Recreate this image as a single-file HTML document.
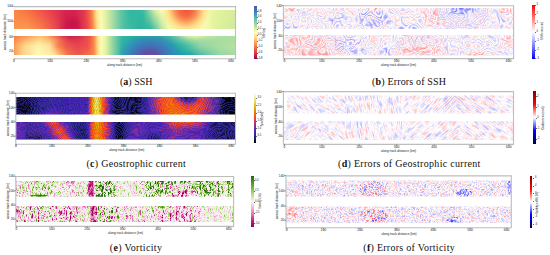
<!DOCTYPE html><html><head><meta charset="utf-8"><style>
*{margin:0;padding:0;box-sizing:border-box}
html,body{width:550px;height:255px;overflow:hidden;background:#fff}
body{position:relative;font-family:"Liberation Sans",sans-serif}
.a{position:absolute}
.sp{position:absolute}
.t{position:absolute;font-size:3.4px;line-height:4px;color:#1a1a1a;white-space:nowrap}
.tc{transform:translateX(-50%)}
.tv{transform:translate(-50%,-50%) rotate(-90deg)}
.cap{position:absolute;font-family:"Liberation Serif",serif;font-size:10px;line-height:12px;color:#111;white-space:nowrap}
.band{position:absolute;overflow:hidden}
.band>div{position:absolute;left:0;top:0;width:100%;height:100%}
svg{position:absolute;left:0;top:0}
</style></head><body>
<div class="band" style="left:14px;top:10px;width:221px;height:19px">
<div style="background:linear-gradient(to right,#fb9550 0.0%,#fc9a50 6.3%,#f88048 11.8%,#f0604a 16.3%,#e4404e 19.9%,#cc1a4b 23.5%,#cf1f4d 29.0%,#ee4a4c 33.5%,#f88a48 35.7%,#fee08b 37.6%,#fefbb5 39.4%,#e3f3a0 41.6%,#a8dca4 44.8%,#4cbfa4 49.8%,#2bb3a0 57.0%,#30b7a0 61.5%,#70cba4 64.3%,#c0e6a0 67.0%,#f0f8aa 69.7%,#f8fab0 86.9%,#e3f3a0 90.5%,#cfeb9a 100.0%)"></div>
<div style="background:linear-gradient(to right,#f98548 0.0%,#f8783f 4.5%,#f46245 9.0%,#ee4c4c 13.6%,#e43a50 18.1%,#d8264f 22.6%,#d4224f 27.1%,#e03a50 31.7%,#f26a42 34.4%,#fa9a50 35.7%,#fee08b 37.1%,#fdfbb2 38.9%,#e3f3a0 41.2%,#b0dfa4 44.3%,#66c6a5 48.0%,#2fb7a0 52.5%,#38b9a1 58.4%,#8ed2a4 61.1%,#d8efa0 63.8%,#f8fab0 66.5%,#f8fab0 86.9%,#e6f4a0 90.5%,#d6ed98 100.0%);-webkit-mask-image:linear-gradient(to bottom,#000 0%,rgba(0,0,0,0.6) 40%,transparent 100%)"></div>
<div style="background:radial-gradient(ellipse 9px 10px at 59px 14px,rgba(198,15,72,0.9),rgba(198,15,72,0) 100%)"></div>
<div style="background:radial-gradient(ellipse 24px 25px at 172px -1px,#f0503e 0%,#f46d43 30%,#f9955a 48%,#fdbe72 62%,#fee08b 76%,rgba(252,248,176,0) 100%)"></div>
</div>
<div class="band" style="left:14px;top:36px;width:221px;height:19px">
<div style="background:linear-gradient(to right,#fb9a52 0.0%,#fed08a 3.6%,#fffab7 10.9%,#feeaa0 18.1%,#fba560 21.7%,#f4744a 24.4%,#ee5a4c 29.0%,#f4704a 33.5%,#f88a48 36.2%,#fee08b 38.0%,#fefbb5 39.4%,#e3f3a0 41.6%,#8fd3a4 44.8%,#2cb0a5 48.9%,#2a98b3 52.5%,#4470b0 56.1%,#5e55a4 59.3%,#6a4ea5 62.4%,#5460a8 66.1%,#3288bd 69.7%,#2296b2 74.2%,#20a8a8 79.6%,#60c4a4 86.4%,#98d6a2 93.2%,#a8dca2 100.0%)"></div>
<div style="background:linear-gradient(to right,#fa9a52 0.0%,#fed98a 5.0%,#fff3ad 10.9%,#fde09a 16.3%,#f8864c 19.9%,#ee5a4c 23.5%,#e84550 28.1%,#f0504c 33.5%,#f88a48 36.2%,#fee08b 38.0%,#fefbb5 39.4%,#e3f3a0 41.6%,#8fd3a4 44.8%,#2bb3a3 48.9%,#2a9db0 53.4%,#3288bd 57.9%,#3a7cba 63.8%,#2d90b8 68.3%,#22a8aa 72.9%,#3cbba4 77.4%,#8fd3a4 84.2%,#aadda2 93.2%,#b5e1a0 100.0%);-webkit-mask-image:linear-gradient(to bottom,transparent 0%,#000 45%,#000 55%,transparent 100%)"></div>
<div style="background:linear-gradient(to right,#f67a45 0.0%,#fa9550 5.0%,#fdc06e 11.8%,#fca45a 14.9%,#f4744a 18.1%,#e03c4f 21.7%,#cd1d4c 25.3%,#d42950 29.9%,#ee5048 34.4%,#f88a48 36.2%,#fee08b 38.0%,#fefbb5 39.4%,#e3f3a0 41.6%,#8fd3a4 44.8%,#35b8a3 48.9%,#22b0a0 54.8%,#25a6a8 61.5%,#2ea7aa 66.1%,#45b9a4 70.6%,#98d5a4 75.1%,#d9f0a0 78.7%,#e6f5a0 81.9%,#cdeba0 86.4%,#b0e0a0 93.2%,#aedfa0 100.0%);-webkit-mask-image:linear-gradient(to bottom,#000 0%,transparent 50%)"></div>
<div style="background:radial-gradient(ellipse 32px 21px at 136px 20px,#6a4ea5 0%,#5e4fa2 20%,#4470b5 48%,rgba(50,136,189,0.6) 75%,rgba(50,136,189,0) 100%)"></div>
</div>
<svg width="550" height="255" viewBox="0 0 550 255"><defs><linearGradient id="h3" gradientUnits="userSpaceOnUse" x1="8" y1="0" x2="243" y2="0"><stop offset="0.0000" stop-color="rgb(25,56,0)"/><stop offset="0.0340" stop-color="rgb(25,56,0)"/><stop offset="0.0511" stop-color="rgb(15,56,0)"/><stop offset="0.0851" stop-color="rgb(12,56,0)"/><stop offset="0.1106" stop-color="rgb(30,56,0)"/><stop offset="0.1447" stop-color="rgb(51,56,0)"/><stop offset="0.1787" stop-color="rgb(76,56,0)"/><stop offset="0.2043" stop-color="rgb(66,56,0)"/><stop offset="0.2426" stop-color="rgb(51,56,0)"/><stop offset="0.2851" stop-color="rgb(56,56,0)"/><stop offset="0.3404" stop-color="rgb(56,56,0)"/><stop offset="0.3489" stop-color="rgb(122,56,0)"/><stop offset="0.3617" stop-color="rgb(173,56,0)"/><stop offset="0.3745" stop-color="rgb(214,56,0)"/><stop offset="0.3872" stop-color="rgb(188,56,0)"/><stop offset="0.4000" stop-color="rgb(147,56,0)"/><stop offset="0.4128" stop-color="rgb(112,56,0)"/><stop offset="0.4298" stop-color="rgb(76,56,0)"/><stop offset="0.4468" stop-color="rgb(30,56,0)"/><stop offset="0.4638" stop-color="rgb(15,56,0)"/><stop offset="0.4894" stop-color="rgb(30,56,0)"/><stop offset="0.5191" stop-color="rgb(20,56,0)"/><stop offset="0.5532" stop-color="rgb(20,56,0)"/><stop offset="0.5872" stop-color="rgb(45,56,0)"/><stop offset="0.6128" stop-color="rgb(66,56,0)"/><stop offset="0.6383" stop-color="rgb(91,56,0)"/><stop offset="0.6638" stop-color="rgb(127,56,0)"/><stop offset="0.6894" stop-color="rgb(145,56,0)"/><stop offset="0.7149" stop-color="rgb(153,56,0)"/><stop offset="0.7404" stop-color="rgb(153,56,0)"/><stop offset="0.7660" stop-color="rgb(147,56,0)"/><stop offset="0.7915" stop-color="rgb(140,56,0)"/><stop offset="0.8170" stop-color="rgb(117,56,0)"/><stop offset="0.8426" stop-color="rgb(86,56,0)"/><stop offset="0.8638" stop-color="rgb(66,56,0)"/><stop offset="0.8851" stop-color="rgb(51,56,0)"/><stop offset="0.9064" stop-color="rgb(25,56,0)"/><stop offset="0.9234" stop-color="rgb(12,56,0)"/><stop offset="1.0000" stop-color="rgb(12,56,0)"/></linearGradient><linearGradient id="h4" gradientUnits="userSpaceOnUse" x1="8" y1="0" x2="243" y2="0"><stop offset="0.0000" stop-color="rgb(25,56,0)"/><stop offset="0.0340" stop-color="rgb(25,56,0)"/><stop offset="0.0511" stop-color="rgb(15,56,0)"/><stop offset="0.0766" stop-color="rgb(12,56,0)"/><stop offset="0.1021" stop-color="rgb(25,56,0)"/><stop offset="0.1447" stop-color="rgb(38,56,0)"/><stop offset="0.2000" stop-color="rgb(43,56,0)"/><stop offset="0.2426" stop-color="rgb(45,56,0)"/><stop offset="0.2851" stop-color="rgb(51,56,0)"/><stop offset="0.3404" stop-color="rgb(56,56,0)"/><stop offset="0.3489" stop-color="rgb(127,56,0)"/><stop offset="0.3617" stop-color="rgb(183,56,0)"/><stop offset="0.3745" stop-color="rgb(224,56,0)"/><stop offset="0.3872" stop-color="rgb(198,56,0)"/><stop offset="0.4000" stop-color="rgb(153,56,0)"/><stop offset="0.4128" stop-color="rgb(114,56,0)"/><stop offset="0.4298" stop-color="rgb(76,56,0)"/><stop offset="0.4468" stop-color="rgb(30,56,0)"/><stop offset="0.4638" stop-color="rgb(15,56,0)"/><stop offset="0.4894" stop-color="rgb(33,56,0)"/><stop offset="0.5191" stop-color="rgb(20,56,0)"/><stop offset="0.5532" stop-color="rgb(20,56,0)"/><stop offset="0.5872" stop-color="rgb(51,56,0)"/><stop offset="0.6128" stop-color="rgb(76,56,0)"/><stop offset="0.6383" stop-color="rgb(112,56,0)"/><stop offset="0.6638" stop-color="rgb(137,56,0)"/><stop offset="0.6894" stop-color="rgb(147,56,0)"/><stop offset="0.7149" stop-color="rgb(142,56,0)"/><stop offset="0.7362" stop-color="rgb(127,56,0)"/><stop offset="0.7574" stop-color="rgb(107,56,0)"/><stop offset="0.7787" stop-color="rgb(112,56,0)"/><stop offset="0.8000" stop-color="rgb(132,56,0)"/><stop offset="0.8213" stop-color="rgb(127,56,0)"/><stop offset="0.8426" stop-color="rgb(102,56,0)"/><stop offset="0.8638" stop-color="rgb(76,56,0)"/><stop offset="0.8851" stop-color="rgb(61,56,0)"/><stop offset="0.9064" stop-color="rgb(30,56,0)"/><stop offset="0.9234" stop-color="rgb(12,56,0)"/><stop offset="1.0000" stop-color="rgb(12,56,0)"/></linearGradient><linearGradient id="h5" gradientUnits="userSpaceOnUse" x1="8" y1="0" x2="243" y2="0"><stop offset="0.0000" stop-color="rgb(25,56,0)"/><stop offset="0.0340" stop-color="rgb(25,56,0)"/><stop offset="0.0596" stop-color="rgb(17,56,0)"/><stop offset="0.0851" stop-color="rgb(25,56,0)"/><stop offset="0.1191" stop-color="rgb(33,56,0)"/><stop offset="0.1574" stop-color="rgb(38,56,0)"/><stop offset="0.2000" stop-color="rgb(43,56,0)"/><stop offset="0.2426" stop-color="rgb(43,56,0)"/><stop offset="0.2851" stop-color="rgb(51,56,0)"/><stop offset="0.3404" stop-color="rgb(53,56,0)"/><stop offset="0.3489" stop-color="rgb(122,56,0)"/><stop offset="0.3617" stop-color="rgb(173,56,0)"/><stop offset="0.3745" stop-color="rgb(219,56,0)"/><stop offset="0.3872" stop-color="rgb(193,56,0)"/><stop offset="0.4000" stop-color="rgb(153,56,0)"/><stop offset="0.4128" stop-color="rgb(117,56,0)"/><stop offset="0.4298" stop-color="rgb(81,56,0)"/><stop offset="0.4468" stop-color="rgb(38,56,0)"/><stop offset="0.4638" stop-color="rgb(17,56,0)"/><stop offset="0.4894" stop-color="rgb(35,56,0)"/><stop offset="0.5191" stop-color="rgb(20,56,0)"/><stop offset="0.5532" stop-color="rgb(25,56,0)"/><stop offset="0.5872" stop-color="rgb(45,56,0)"/><stop offset="0.6128" stop-color="rgb(76,56,0)"/><stop offset="0.6383" stop-color="rgb(117,56,0)"/><stop offset="0.6638" stop-color="rgb(137,56,0)"/><stop offset="0.6894" stop-color="rgb(142,56,0)"/><stop offset="0.7106" stop-color="rgb(122,56,0)"/><stop offset="0.7277" stop-color="rgb(76,56,0)"/><stop offset="0.7447" stop-color="rgb(40,56,0)"/><stop offset="0.7830" stop-color="rgb(40,56,0)"/><stop offset="0.8043" stop-color="rgb(76,56,0)"/><stop offset="0.8213" stop-color="rgb(112,56,0)"/><stop offset="0.8426" stop-color="rgb(107,56,0)"/><stop offset="0.8638" stop-color="rgb(81,56,0)"/><stop offset="0.8851" stop-color="rgb(61,56,0)"/><stop offset="0.9064" stop-color="rgb(30,56,0)"/><stop offset="0.9234" stop-color="rgb(12,56,0)"/><stop offset="1.0000" stop-color="rgb(12,56,0)"/></linearGradient><linearGradient id="v6" x1="0" y1="0" x2="0" y2="1"><stop offset="0" stop-color="#fff" stop-opacity="0"/><stop offset="0.23880597014925373" stop-color="#fff" stop-opacity="0"/><stop offset="0.5" stop-color="#fff" stop-opacity="1"/><stop offset="0.7611940298507462" stop-color="#fff" stop-opacity="0"/><stop offset="1" stop-color="#fff" stop-opacity="0"/></linearGradient><mask id="m7" maskContentUnits="objectBoundingBox"><rect x="0" y="0" width="1" height="1" fill="url(#v6)"/></mask><linearGradient id="v8" x1="0" y1="0" x2="0" y2="1"><stop offset="0" stop-color="#fff" stop-opacity="1"/><stop offset="0.23880597014925373" stop-color="#fff" stop-opacity="1"/><stop offset="0.5" stop-color="#fff" stop-opacity="0"/><stop offset="1" stop-color="#fff" stop-opacity="0"/></linearGradient><mask id="m9" maskContentUnits="objectBoundingBox"><rect x="0" y="0" width="1" height="1" fill="url(#v8)"/></mask><filter id="f1" filterUnits="userSpaceOnUse" x="8" y="89" width="235" height="33.5" color-interpolation-filters="sRGB"><feGaussianBlur in="SourceGraphic" stdDeviation="0.8" result="src"/><feColorMatrix in="src" type="matrix" values="1 0 0 0 0  1 0 0 0 0  1 0 0 0 0  0 0 0 0 1" result="bias"/><feColorMatrix in="src" type="matrix" values="0 1 0 0 0  0 1 0 0 0  0 1 0 0 0  0 0 0 0 1" result="amp"/><feTurbulence type="fractalNoise" baseFrequency="0.025 0.035" numOctaves="2" seed="4"/><feColorMatrix type="matrix" values="1 0 0 0 0  1 0 0 0 0  1 0 0 0 0  0 0 0 0 1"/><feComponentTransfer result="t0"><feFuncR type="table" tableValues="0 1 0 1 0 1 0 1 0 1 0 1 0 1 0 1 0 1 0 1 0 1 0 1 0 1 0 1 0 1 0 1 0 1 0 1 0 1 0 1 0 1 0 1 0 1 0 1 0 1 0 1 0 1 0 1 0 1 0 1 0"/><feFuncG type="table" tableValues="0 1 0 1 0 1 0 1 0 1 0 1 0 1 0 1 0 1 0 1 0 1 0 1 0 1 0 1 0 1 0 1 0 1 0 1 0 1 0 1 0 1 0 1 0 1 0 1 0 1 0 1 0 1 0 1 0 1 0 1 0"/><feFuncB type="table" tableValues="0 1 0 1 0 1 0 1 0 1 0 1 0 1 0 1 0 1 0 1 0 1 0 1 0 1 0 1 0 1 0 1 0 1 0 1 0 1 0 1 0 1 0 1 0 1 0 1 0 1 0 1 0 1 0 1 0 1 0 1 0"/></feComponentTransfer><feTurbulence type="fractalNoise" baseFrequency="0.45" numOctaves="1" seed="2"/><feColorMatrix type="matrix" values="1 0 0 0 0  1 0 0 0 0  1 0 0 0 0  0 0 0 0 1" result="t1"/><feComponentTransfer in="t0" result="tx"><feFuncR type="linear" slope="0.7" intercept="0.15000000000000002"/><feFuncG type="linear" slope="0.7" intercept="0.15000000000000002"/><feFuncB type="linear" slope="0.7" intercept="0.15000000000000002"/></feComponentTransfer><feComposite in="tx" in2="t1" operator="arithmetic" k2="1" k3="0.4" k4="-0.2" result="tx"/><feComposite in="amp" in2="tx" operator="arithmetic" k1="1" k2="-0.5" k4="0.5" result="s1"/><feComposite in="bias" in2="s1" operator="arithmetic" k2="1" k3="1" k4="-0.5" result="s2"/><feComponentTransfer in="s2"><feFuncR type="table" tableValues="0.000 0.037 0.075 0.112 0.150 0.188 0.225 0.262 0.300 0.375 0.450 0.525 0.600 0.700 0.800 0.900 1.000 0.975 0.950 0.925 0.900 0.900 0.900 0.900 0.900 0.900 0.900 0.900 0.900 0.925 0.950 0.975 1.000"/><feFuncG type="table" tableValues="0.000 0.037 0.075 0.112 0.150 0.150 0.150 0.150 0.150 0.162 0.175 0.188 0.200 0.213 0.225 0.237 0.250 0.312 0.375 0.438 0.500 0.562 0.625 0.688 0.750 0.787 0.825 0.863 0.900 0.925 0.950 0.975 1.000"/><feFuncB type="table" tableValues="0.000 0.125 0.250 0.375 0.500 0.562 0.625 0.688 0.750 0.688 0.625 0.562 0.500 0.412 0.325 0.237 0.150 0.112 0.075 0.037 0.000 0.025 0.050 0.075 0.100 0.200 0.300 0.400 0.500 0.625 0.750 0.875 1.000"/><feFuncA type="linear" slope="0" intercept="1"/></feComponentTransfer></filter><clipPath id="c2"><rect x="16" y="97" width="219" height="17.5"/></clipPath><linearGradient id="h12" gradientUnits="userSpaceOnUse" x1="8" y1="0" x2="243" y2="0"><stop offset="0.0000" stop-color="rgb(76,56,0)"/><stop offset="0.0340" stop-color="rgb(76,56,0)"/><stop offset="0.0511" stop-color="rgb(51,56,0)"/><stop offset="0.0851" stop-color="rgb(30,56,0)"/><stop offset="0.1277" stop-color="rgb(12,56,0)"/><stop offset="0.1617" stop-color="rgb(40,56,0)"/><stop offset="0.1872" stop-color="rgb(61,56,0)"/><stop offset="0.2085" stop-color="rgb(81,56,0)"/><stop offset="0.2213" stop-color="rgb(117,56,0)"/><stop offset="0.2340" stop-color="rgb(142,56,0)"/><stop offset="0.2511" stop-color="rgb(140,56,0)"/><stop offset="0.2638" stop-color="rgb(107,56,0)"/><stop offset="0.2809" stop-color="rgb(61,56,0)"/><stop offset="0.3064" stop-color="rgb(30,56,0)"/><stop offset="0.3404" stop-color="rgb(38,56,0)"/><stop offset="0.3532" stop-color="rgb(122,56,0)"/><stop offset="0.3660" stop-color="rgb(153,56,0)"/><stop offset="0.3787" stop-color="rgb(173,56,0)"/><stop offset="0.3915" stop-color="rgb(158,56,0)"/><stop offset="0.4085" stop-color="rgb(127,56,0)"/><stop offset="0.4255" stop-color="rgb(96,56,0)"/><stop offset="0.4426" stop-color="rgb(66,56,0)"/><stop offset="0.4596" stop-color="rgb(17,56,0)"/><stop offset="0.4809" stop-color="rgb(15,56,0)"/><stop offset="0.5021" stop-color="rgb(45,56,0)"/><stop offset="0.5404" stop-color="rgb(66,56,0)"/><stop offset="0.5830" stop-color="rgb(40,56,0)"/><stop offset="0.6255" stop-color="rgb(15,56,0)"/><stop offset="0.6553" stop-color="rgb(51,56,0)"/><stop offset="0.6894" stop-color="rgb(76,56,0)"/><stop offset="0.7319" stop-color="rgb(66,56,0)"/><stop offset="0.7957" stop-color="rgb(63,56,0)"/><stop offset="0.8255" stop-color="rgb(56,56,0)"/><stop offset="0.8511" stop-color="rgb(40,56,0)"/><stop offset="0.8809" stop-color="rgb(30,56,0)"/><stop offset="0.9660" stop-color="rgb(30,56,0)"/><stop offset="1.0000" stop-color="rgb(30,56,0)"/></linearGradient><linearGradient id="h13" gradientUnits="userSpaceOnUse" x1="8" y1="0" x2="243" y2="0"><stop offset="0.0000" stop-color="rgb(76,56,0)"/><stop offset="0.0340" stop-color="rgb(76,56,0)"/><stop offset="0.0511" stop-color="rgb(61,56,0)"/><stop offset="0.0851" stop-color="rgb(51,56,0)"/><stop offset="0.1191" stop-color="rgb(51,56,0)"/><stop offset="0.1532" stop-color="rgb(61,56,0)"/><stop offset="0.1787" stop-color="rgb(76,56,0)"/><stop offset="0.1957" stop-color="rgb(117,56,0)"/><stop offset="0.2085" stop-color="rgb(142,56,0)"/><stop offset="0.2255" stop-color="rgb(140,56,0)"/><stop offset="0.2383" stop-color="rgb(107,56,0)"/><stop offset="0.2553" stop-color="rgb(66,56,0)"/><stop offset="0.2809" stop-color="rgb(40,56,0)"/><stop offset="0.3064" stop-color="rgb(30,56,0)"/><stop offset="0.3404" stop-color="rgb(38,56,0)"/><stop offset="0.3532" stop-color="rgb(122,56,0)"/><stop offset="0.3660" stop-color="rgb(153,56,0)"/><stop offset="0.3787" stop-color="rgb(168,56,0)"/><stop offset="0.3915" stop-color="rgb(158,56,0)"/><stop offset="0.4085" stop-color="rgb(132,56,0)"/><stop offset="0.4255" stop-color="rgb(102,56,0)"/><stop offset="0.4426" stop-color="rgb(71,56,0)"/><stop offset="0.4596" stop-color="rgb(15,56,0)"/><stop offset="0.4809" stop-color="rgb(15,56,0)"/><stop offset="0.5021" stop-color="rgb(40,56,0)"/><stop offset="0.5277" stop-color="rgb(66,56,0)"/><stop offset="0.5617" stop-color="rgb(81,56,0)"/><stop offset="0.6043" stop-color="rgb(56,56,0)"/><stop offset="0.6468" stop-color="rgb(71,56,0)"/><stop offset="0.6809" stop-color="rgb(66,56,0)"/><stop offset="0.7106" stop-color="rgb(91,56,0)"/><stop offset="0.7532" stop-color="rgb(81,56,0)"/><stop offset="0.7957" stop-color="rgb(71,56,0)"/><stop offset="0.8255" stop-color="rgb(63,56,0)"/><stop offset="0.8511" stop-color="rgb(45,56,0)"/><stop offset="0.8809" stop-color="rgb(30,56,0)"/><stop offset="0.9660" stop-color="rgb(30,56,0)"/><stop offset="1.0000" stop-color="rgb(30,56,0)"/></linearGradient><linearGradient id="h14" gradientUnits="userSpaceOnUse" x1="8" y1="0" x2="243" y2="0"><stop offset="0.0000" stop-color="rgb(76,56,0)"/><stop offset="0.0340" stop-color="rgb(76,56,0)"/><stop offset="0.0511" stop-color="rgb(61,56,0)"/><stop offset="0.0851" stop-color="rgb(51,56,0)"/><stop offset="0.1191" stop-color="rgb(56,56,0)"/><stop offset="0.1447" stop-color="rgb(66,56,0)"/><stop offset="0.1617" stop-color="rgb(91,56,0)"/><stop offset="0.1745" stop-color="rgb(122,56,0)"/><stop offset="0.1872" stop-color="rgb(140,56,0)"/><stop offset="0.2000" stop-color="rgb(140,56,0)"/><stop offset="0.2128" stop-color="rgb(107,56,0)"/><stop offset="0.2298" stop-color="rgb(66,56,0)"/><stop offset="0.2553" stop-color="rgb(45,56,0)"/><stop offset="0.2851" stop-color="rgb(35,56,0)"/><stop offset="0.3404" stop-color="rgb(40,56,0)"/><stop offset="0.3532" stop-color="rgb(122,56,0)"/><stop offset="0.3660" stop-color="rgb(153,56,0)"/><stop offset="0.3787" stop-color="rgb(173,56,0)"/><stop offset="0.3915" stop-color="rgb(158,56,0)"/><stop offset="0.4085" stop-color="rgb(132,56,0)"/><stop offset="0.4255" stop-color="rgb(102,56,0)"/><stop offset="0.4426" stop-color="rgb(71,56,0)"/><stop offset="0.4596" stop-color="rgb(20,56,0)"/><stop offset="0.4809" stop-color="rgb(15,56,0)"/><stop offset="0.5021" stop-color="rgb(40,56,0)"/><stop offset="0.5277" stop-color="rgb(61,56,0)"/><stop offset="0.5617" stop-color="rgb(76,56,0)"/><stop offset="0.6043" stop-color="rgb(61,56,0)"/><stop offset="0.6468" stop-color="rgb(76,56,0)"/><stop offset="0.6809" stop-color="rgb(102,56,0)"/><stop offset="0.7021" stop-color="rgb(132,56,0)"/><stop offset="0.7532" stop-color="rgb(135,56,0)"/><stop offset="0.7957" stop-color="rgb(127,56,0)"/><stop offset="0.8255" stop-color="rgb(102,56,0)"/><stop offset="0.8511" stop-color="rgb(56,56,0)"/><stop offset="0.8809" stop-color="rgb(30,56,0)"/><stop offset="0.9660" stop-color="rgb(30,56,0)"/><stop offset="1.0000" stop-color="rgb(30,56,0)"/></linearGradient><linearGradient id="v15" x1="0" y1="0" x2="0" y2="1"><stop offset="0" stop-color="#fff" stop-opacity="0"/><stop offset="0.23880597014925373" stop-color="#fff" stop-opacity="0"/><stop offset="0.5" stop-color="#fff" stop-opacity="1"/><stop offset="0.7611940298507462" stop-color="#fff" stop-opacity="0"/><stop offset="1" stop-color="#fff" stop-opacity="0"/></linearGradient><mask id="m16" maskContentUnits="objectBoundingBox"><rect x="0" y="0" width="1" height="1" fill="url(#v15)"/></mask><linearGradient id="v17" x1="0" y1="0" x2="0" y2="1"><stop offset="0" stop-color="#fff" stop-opacity="1"/><stop offset="0.23880597014925373" stop-color="#fff" stop-opacity="1"/><stop offset="0.5" stop-color="#fff" stop-opacity="0"/><stop offset="1" stop-color="#fff" stop-opacity="0"/></linearGradient><mask id="m18" maskContentUnits="objectBoundingBox"><rect x="0" y="0" width="1" height="1" fill="url(#v17)"/></mask><filter id="f10" filterUnits="userSpaceOnUse" x="8" y="114" width="235" height="33.5" color-interpolation-filters="sRGB"><feGaussianBlur in="SourceGraphic" stdDeviation="0.8" result="src"/><feColorMatrix in="src" type="matrix" values="1 0 0 0 0  1 0 0 0 0  1 0 0 0 0  0 0 0 0 1" result="bias"/><feColorMatrix in="src" type="matrix" values="0 1 0 0 0  0 1 0 0 0  0 1 0 0 0  0 0 0 0 1" result="amp"/><feTurbulence type="fractalNoise" baseFrequency="0.025 0.035" numOctaves="2" seed="9"/><feColorMatrix type="matrix" values="1 0 0 0 0  1 0 0 0 0  1 0 0 0 0  0 0 0 0 1"/><feComponentTransfer result="t0"><feFuncR type="table" tableValues="0 1 0 1 0 1 0 1 0 1 0 1 0 1 0 1 0 1 0 1 0 1 0 1 0 1 0 1 0 1 0 1 0 1 0 1 0 1 0 1 0 1 0 1 0 1 0 1 0 1 0 1 0 1 0 1 0 1 0 1 0"/><feFuncG type="table" tableValues="0 1 0 1 0 1 0 1 0 1 0 1 0 1 0 1 0 1 0 1 0 1 0 1 0 1 0 1 0 1 0 1 0 1 0 1 0 1 0 1 0 1 0 1 0 1 0 1 0 1 0 1 0 1 0 1 0 1 0 1 0"/><feFuncB type="table" tableValues="0 1 0 1 0 1 0 1 0 1 0 1 0 1 0 1 0 1 0 1 0 1 0 1 0 1 0 1 0 1 0 1 0 1 0 1 0 1 0 1 0 1 0 1 0 1 0 1 0 1 0 1 0 1 0 1 0 1 0 1 0"/></feComponentTransfer><feTurbulence type="fractalNoise" baseFrequency="0.45" numOctaves="1" seed="12"/><feColorMatrix type="matrix" values="1 0 0 0 0  1 0 0 0 0  1 0 0 0 0  0 0 0 0 1" result="t1"/><feComponentTransfer in="t0" result="tx"><feFuncR type="linear" slope="0.7" intercept="0.15000000000000002"/><feFuncG type="linear" slope="0.7" intercept="0.15000000000000002"/><feFuncB type="linear" slope="0.7" intercept="0.15000000000000002"/></feComponentTransfer><feComposite in="tx" in2="t1" operator="arithmetic" k2="1" k3="0.4" k4="-0.2" result="tx"/><feComposite in="amp" in2="tx" operator="arithmetic" k1="1" k2="-0.5" k4="0.5" result="s1"/><feComposite in="bias" in2="s1" operator="arithmetic" k2="1" k3="1" k4="-0.5" result="s2"/><feComponentTransfer in="s2"><feFuncR type="table" tableValues="0.000 0.037 0.075 0.112 0.150 0.188 0.225 0.262 0.300 0.375 0.450 0.525 0.600 0.700 0.800 0.900 1.000 0.975 0.950 0.925 0.900 0.900 0.900 0.900 0.900 0.900 0.900 0.900 0.900 0.925 0.950 0.975 1.000"/><feFuncG type="table" tableValues="0.000 0.037 0.075 0.112 0.150 0.150 0.150 0.150 0.150 0.162 0.175 0.188 0.200 0.213 0.225 0.237 0.250 0.312 0.375 0.438 0.500 0.562 0.625 0.688 0.750 0.787 0.825 0.863 0.900 0.925 0.950 0.975 1.000"/><feFuncB type="table" tableValues="0.000 0.125 0.250 0.375 0.500 0.562 0.625 0.688 0.750 0.688 0.625 0.562 0.500 0.412 0.325 0.237 0.150 0.112 0.075 0.037 0.000 0.025 0.050 0.075 0.100 0.200 0.300 0.400 0.500 0.625 0.750 0.875 1.000"/><feFuncA type="linear" slope="0" intercept="1"/></feComponentTransfer></filter><clipPath id="c11"><rect x="16" y="122" width="219" height="17.5"/></clipPath><linearGradient id="h21" gradientUnits="userSpaceOnUse" x1="276" y1="0" x2="521" y2="0"><stop offset="0.0000" stop-color="rgb(127,51,0)"/><stop offset="1.0000" stop-color="rgb(127,51,0)"/></linearGradient><linearGradient id="h22" gradientUnits="userSpaceOnUse" x1="276" y1="0" x2="521" y2="0"><stop offset="0.0000" stop-color="rgb(127,51,0)"/><stop offset="1.0000" stop-color="rgb(127,51,0)"/></linearGradient><linearGradient id="h23" gradientUnits="userSpaceOnUse" x1="276" y1="0" x2="521" y2="0"><stop offset="0.0000" stop-color="rgb(127,51,0)"/><stop offset="1.0000" stop-color="rgb(127,51,0)"/></linearGradient><linearGradient id="v24" x1="0" y1="0" x2="0" y2="1"><stop offset="0" stop-color="#fff" stop-opacity="0"/><stop offset="0.21621621621621623" stop-color="#fff" stop-opacity="0"/><stop offset="0.5" stop-color="#fff" stop-opacity="1"/><stop offset="0.7837837837837838" stop-color="#fff" stop-opacity="0"/><stop offset="1" stop-color="#fff" stop-opacity="0"/></linearGradient><mask id="m25" maskContentUnits="objectBoundingBox"><rect x="0" y="0" width="1" height="1" fill="url(#v24)"/></mask><linearGradient id="v26" x1="0" y1="0" x2="0" y2="1"><stop offset="0" stop-color="#fff" stop-opacity="1"/><stop offset="0.21621621621621623" stop-color="#fff" stop-opacity="1"/><stop offset="0.5" stop-color="#fff" stop-opacity="0"/><stop offset="1" stop-color="#fff" stop-opacity="0"/></linearGradient><mask id="m27" maskContentUnits="objectBoundingBox"><rect x="0" y="0" width="1" height="1" fill="url(#v26)"/></mask><filter id="f19" filterUnits="userSpaceOnUse" x="276" y="0" width="245" height="37" color-interpolation-filters="sRGB"><feGaussianBlur in="SourceGraphic" stdDeviation="0.8" result="src"/><feColorMatrix in="src" type="matrix" values="1 0 0 0 0  1 0 0 0 0  1 0 0 0 0  0 0 0 0 1" result="bias"/><feColorMatrix in="src" type="matrix" values="0 1 0 0 0  0 1 0 0 0  0 1 0 0 0  0 0 0 0 1" result="amp"/><feTurbulence type="fractalNoise" baseFrequency="0.06" numOctaves="2" seed="3"/><feColorMatrix type="matrix" values="1 0 0 0 0  1 0 0 0 0  1 0 0 0 0  0 0 0 0 1"/><feComponentTransfer result="t0"><feFuncR type="table" tableValues="0 1 0 1 0 1 0 1 0 1 0 1 0 1 0 1 0 1 0"/><feFuncG type="table" tableValues="0 1 0 1 0 1 0 1 0 1 0 1 0 1 0 1 0 1 0"/><feFuncB type="table" tableValues="0 1 0 1 0 1 0 1 0 1 0 1 0 1 0 1 0 1 0"/></feComponentTransfer><feTurbulence type="fractalNoise" baseFrequency="0.18" numOctaves="2" seed="5"/><feColorMatrix type="matrix" values="1 0 0 0 0  1 0 0 0 0  1 0 0 0 0  0 0 0 0 1" result="t1"/><feComponentTransfer in="t0" result="tx"><feFuncR type="linear" slope="0.8" intercept="0.09999999999999998"/><feFuncG type="linear" slope="0.8" intercept="0.09999999999999998"/><feFuncB type="linear" slope="0.8" intercept="0.09999999999999998"/></feComponentTransfer><feComposite in="tx" in2="t1" operator="arithmetic" k2="1" k3="0.8" k4="-0.4" result="tx"/><feComposite in="amp" in2="tx" operator="arithmetic" k1="1" k2="-0.5" k4="0.5" result="s1"/><feComposite in="bias" in2="s1" operator="arithmetic" k2="1" k3="1" k4="-0.5" result="s2"/><feComponentTransfer in="s2"><feFuncR type="table" tableValues="0.000 0.062 0.125 0.188 0.250 0.312 0.375 0.438 0.500 0.562 0.625 0.688 0.750 0.812 0.875 0.938 1.000 1.000 1.000 1.000 1.000 1.000 1.000 1.000 1.000 1.000 1.000 1.000 1.000 1.000 1.000 1.000 1.000"/><feFuncG type="table" tableValues="0.000 0.062 0.125 0.188 0.250 0.312 0.375 0.438 0.500 0.562 0.625 0.688 0.750 0.812 0.875 0.938 1.000 0.938 0.875 0.812 0.750 0.688 0.625 0.562 0.500 0.438 0.375 0.312 0.250 0.188 0.125 0.062 0.000"/><feFuncB type="table" tableValues="1.000 1.000 1.000 1.000 1.000 1.000 1.000 1.000 1.000 1.000 1.000 1.000 1.000 1.000 1.000 1.000 1.000 0.938 0.875 0.812 0.750 0.688 0.625 0.562 0.500 0.438 0.375 0.312 0.250 0.188 0.125 0.062 0.000"/><feFuncA type="linear" slope="0" intercept="1"/></feComponentTransfer></filter><clipPath id="c20"><rect x="284" y="8" width="229" height="21"/></clipPath><linearGradient id="h30" gradientUnits="userSpaceOnUse" x1="276" y1="0" x2="521" y2="0"><stop offset="0.0000" stop-color="rgb(127,51,0)"/><stop offset="1.0000" stop-color="rgb(127,51,0)"/></linearGradient><linearGradient id="h31" gradientUnits="userSpaceOnUse" x1="276" y1="0" x2="521" y2="0"><stop offset="0.0000" stop-color="rgb(127,51,0)"/><stop offset="1.0000" stop-color="rgb(127,51,0)"/></linearGradient><linearGradient id="h32" gradientUnits="userSpaceOnUse" x1="276" y1="0" x2="521" y2="0"><stop offset="0.0000" stop-color="rgb(127,51,0)"/><stop offset="1.0000" stop-color="rgb(127,51,0)"/></linearGradient><linearGradient id="v33" x1="0" y1="0" x2="0" y2="1"><stop offset="0" stop-color="#fff" stop-opacity="0"/><stop offset="0.21978021978021978" stop-color="#fff" stop-opacity="0"/><stop offset="0.5" stop-color="#fff" stop-opacity="1"/><stop offset="0.7802197802197802" stop-color="#fff" stop-opacity="0"/><stop offset="1" stop-color="#fff" stop-opacity="0"/></linearGradient><mask id="m34" maskContentUnits="objectBoundingBox"><rect x="0" y="0" width="1" height="1" fill="url(#v33)"/></mask><linearGradient id="v35" x1="0" y1="0" x2="0" y2="1"><stop offset="0" stop-color="#fff" stop-opacity="1"/><stop offset="0.21978021978021978" stop-color="#fff" stop-opacity="1"/><stop offset="0.5" stop-color="#fff" stop-opacity="0"/><stop offset="1" stop-color="#fff" stop-opacity="0"/></linearGradient><mask id="m36" maskContentUnits="objectBoundingBox"><rect x="0" y="0" width="1" height="1" fill="url(#v35)"/></mask><filter id="f28" filterUnits="userSpaceOnUse" x="276" y="27" width="245" height="36.4" color-interpolation-filters="sRGB"><feGaussianBlur in="SourceGraphic" stdDeviation="0.8" result="src"/><feColorMatrix in="src" type="matrix" values="1 0 0 0 0  1 0 0 0 0  1 0 0 0 0  0 0 0 0 1" result="bias"/><feColorMatrix in="src" type="matrix" values="0 1 0 0 0  0 1 0 0 0  0 1 0 0 0  0 0 0 0 1" result="amp"/><feTurbulence type="fractalNoise" baseFrequency="0.06" numOctaves="2" seed="13"/><feColorMatrix type="matrix" values="1 0 0 0 0  1 0 0 0 0  1 0 0 0 0  0 0 0 0 1"/><feComponentTransfer result="t0"><feFuncR type="table" tableValues="0 1 0 1 0 1 0 1 0 1 0 1 0 1 0 1 0 1 0"/><feFuncG type="table" tableValues="0 1 0 1 0 1 0 1 0 1 0 1 0 1 0 1 0 1 0"/><feFuncB type="table" tableValues="0 1 0 1 0 1 0 1 0 1 0 1 0 1 0 1 0 1 0"/></feComponentTransfer><feTurbulence type="fractalNoise" baseFrequency="0.18" numOctaves="2" seed="15"/><feColorMatrix type="matrix" values="1 0 0 0 0  1 0 0 0 0  1 0 0 0 0  0 0 0 0 1" result="t1"/><feComponentTransfer in="t0" result="tx"><feFuncR type="linear" slope="0.8" intercept="0.09999999999999998"/><feFuncG type="linear" slope="0.8" intercept="0.09999999999999998"/><feFuncB type="linear" slope="0.8" intercept="0.09999999999999998"/></feComponentTransfer><feComposite in="tx" in2="t1" operator="arithmetic" k2="1" k3="0.8" k4="-0.4" result="tx"/><feComposite in="amp" in2="tx" operator="arithmetic" k1="1" k2="-0.5" k4="0.5" result="s1"/><feComposite in="bias" in2="s1" operator="arithmetic" k2="1" k3="1" k4="-0.5" result="s2"/><feComponentTransfer in="s2"><feFuncR type="table" tableValues="0.000 0.062 0.125 0.188 0.250 0.312 0.375 0.438 0.500 0.562 0.625 0.688 0.750 0.812 0.875 0.938 1.000 1.000 1.000 1.000 1.000 1.000 1.000 1.000 1.000 1.000 1.000 1.000 1.000 1.000 1.000 1.000 1.000"/><feFuncG type="table" tableValues="0.000 0.062 0.125 0.188 0.250 0.312 0.375 0.438 0.500 0.562 0.625 0.688 0.750 0.812 0.875 0.938 1.000 0.938 0.875 0.812 0.750 0.688 0.625 0.562 0.500 0.438 0.375 0.312 0.250 0.188 0.125 0.062 0.000"/><feFuncB type="table" tableValues="1.000 1.000 1.000 1.000 1.000 1.000 1.000 1.000 1.000 1.000 1.000 1.000 1.000 1.000 1.000 1.000 1.000 0.938 0.875 0.812 0.750 0.688 0.625 0.562 0.500 0.438 0.375 0.312 0.250 0.188 0.125 0.062 0.000"/><feFuncA type="linear" slope="0" intercept="1"/></feComponentTransfer></filter><clipPath id="c29"><rect x="284" y="35" width="229" height="20.4"/></clipPath><linearGradient id="h39" gradientUnits="userSpaceOnUse" x1="277.63554709862206" y1="0" x2="354.36445290137794" y2="0"><stop offset="0.0000" stop-color="rgb(127,40,0)"/><stop offset="1.0000" stop-color="rgb(127,40,0)"/></linearGradient><linearGradient id="h40" gradientUnits="userSpaceOnUse" x1="277.63554709862206" y1="0" x2="354.36445290137794" y2="0"><stop offset="0.0000" stop-color="rgb(127,40,0)"/><stop offset="1.0000" stop-color="rgb(127,40,0)"/></linearGradient><linearGradient id="h41" gradientUnits="userSpaceOnUse" x1="277.63554709862206" y1="0" x2="354.36445290137794" y2="0"><stop offset="0.0000" stop-color="rgb(127,40,0)"/><stop offset="1.0000" stop-color="rgb(127,40,0)"/></linearGradient><linearGradient id="v42" x1="0" y1="0" x2="0" y2="1"><stop offset="0" stop-color="#fff" stop-opacity="0"/><stop offset="0.1042631836894077" stop-color="#fff" stop-opacity="0"/><stop offset="0.22155926533999137" stop-color="#fff" stop-opacity="1"/><stop offset="0.33885534699057507" stop-color="#fff" stop-opacity="0"/><stop offset="1" stop-color="#fff" stop-opacity="0"/></linearGradient><mask id="m43" maskContentUnits="objectBoundingBox"><rect x="0" y="0" width="1" height="1" fill="url(#v42)"/></mask><linearGradient id="v44" x1="0" y1="0" x2="0" y2="1"><stop offset="0" stop-color="#fff" stop-opacity="1"/><stop offset="0.1042631836894077" stop-color="#fff" stop-opacity="1"/><stop offset="0.22155926533999137" stop-color="#fff" stop-opacity="0"/><stop offset="1" stop-color="#fff" stop-opacity="0"/></linearGradient><mask id="m45" maskContentUnits="objectBoundingBox"><rect x="0" y="0" width="1" height="1" fill="url(#v44)"/></mask><filter id="f37" filterUnits="userSpaceOnUse" x="277.63554709862206" y="66.13554709862206" width="76.7289058027559" height="76.7289058027559" color-interpolation-filters="sRGB"><feGaussianBlur in="SourceGraphic" stdDeviation="0.6" result="src"/><feColorMatrix in="src" type="matrix" values="1 0 0 0 0  1 0 0 0 0  1 0 0 0 0  0 0 0 0 1" result="bias"/><feColorMatrix in="src" type="matrix" values="0 1 0 0 0  0 1 0 0 0  0 1 0 0 0  0 0 0 0 1" result="amp"/><feTurbulence type="fractalNoise" baseFrequency="0.1 0.5" numOctaves="2" seed="21"/><feColorMatrix type="matrix" values="1 0 0 0 0  1 0 0 0 0  1 0 0 0 0  0 0 0 0 1" result="t0"/><feTurbulence type="fractalNoise" baseFrequency="0.5" numOctaves="1" seed="71"/><feColorMatrix type="matrix" values="1 0 0 0 0  1 0 0 0 0  1 0 0 0 0  0 0 0 0 1" result="t1"/><feComponentTransfer in="t0" result="tx"><feFuncR type="linear" slope="1.5" intercept="-0.25"/><feFuncG type="linear" slope="1.5" intercept="-0.25"/><feFuncB type="linear" slope="1.5" intercept="-0.25"/></feComponentTransfer><feComposite in="tx" in2="t1" operator="arithmetic" k2="1" k3="0.4" k4="-0.2" result="tx"/><feComposite in="amp" in2="tx" operator="arithmetic" k1="1" k2="-0.5" k4="0.5" result="s1"/><feComposite in="bias" in2="s1" operator="arithmetic" k2="1" k3="1" k4="-0.5" result="s2"/><feComponentTransfer in="s2"><feFuncR type="table" tableValues="0.000 0.000 0.000 0.000 0.000 0.000 0.000 0.000 0.000 0.125 0.250 0.375 0.500 0.625 0.750 0.875 1.000 1.000 1.000 1.000 1.000 1.000 1.000 1.000 1.000 0.938 0.875 0.812 0.750 0.688 0.625 0.562 0.500"/><feFuncG type="table" tableValues="0.000 0.000 0.000 0.000 0.000 0.000 0.000 0.000 0.000 0.125 0.250 0.375 0.500 0.625 0.750 0.875 1.000 0.875 0.750 0.625 0.500 0.375 0.250 0.125 0.000 0.000 0.000 0.000 0.000 0.000 0.000 0.000 0.000"/><feFuncB type="table" tableValues="0.300 0.388 0.475 0.562 0.650 0.738 0.825 0.912 1.000 1.000 1.000 1.000 1.000 1.000 1.000 1.000 1.000 0.875 0.750 0.625 0.500 0.375 0.250 0.125 0.000 0.000 0.000 0.000 0.000 0.000 0.000 0.000 0.000"/><feFuncA type="linear" slope="0" intercept="1"/></feComponentTransfer></filter><clipPath id="c38"><rect x="287" y="95.5" width="58" height="18"/></clipPath><linearGradient id="h48" gradientUnits="userSpaceOnUse" x1="335.6576589734177" y1="0" x2="413.3423410265823" y2="0"><stop offset="0.0000" stop-color="rgb(127,40,0)"/><stop offset="1.0000" stop-color="rgb(127,40,0)"/></linearGradient><linearGradient id="h49" gradientUnits="userSpaceOnUse" x1="335.6576589734177" y1="0" x2="413.3423410265823" y2="0"><stop offset="0.0000" stop-color="rgb(127,40,0)"/><stop offset="1.0000" stop-color="rgb(127,40,0)"/></linearGradient><linearGradient id="h50" gradientUnits="userSpaceOnUse" x1="335.6576589734177" y1="0" x2="413.3423410265823" y2="0"><stop offset="0.0000" stop-color="rgb(127,40,0)"/><stop offset="1.0000" stop-color="rgb(127,40,0)"/></linearGradient><linearGradient id="v51" x1="0" y1="0" x2="0" y2="1"><stop offset="0" stop-color="#fff" stop-opacity="0"/><stop offset="0.10298040474086118" stop-color="#fff" stop-opacity="0"/><stop offset="0.21883336007433" stop-color="#fff" stop-opacity="1"/><stop offset="0.3346863154077988" stop-color="#fff" stop-opacity="0"/><stop offset="1" stop-color="#fff" stop-opacity="0"/></linearGradient><mask id="m52" maskContentUnits="objectBoundingBox"><rect x="0" y="0" width="1" height="1" fill="url(#v51)"/></mask><linearGradient id="v53" x1="0" y1="0" x2="0" y2="1"><stop offset="0" stop-color="#fff" stop-opacity="1"/><stop offset="0.10298040474086118" stop-color="#fff" stop-opacity="1"/><stop offset="0.21883336007433" stop-color="#fff" stop-opacity="0"/><stop offset="1" stop-color="#fff" stop-opacity="0"/></linearGradient><mask id="m54" maskContentUnits="objectBoundingBox"><rect x="0" y="0" width="1" height="1" fill="url(#v53)"/></mask><filter id="f46" filterUnits="userSpaceOnUse" x="335.6576589734177" y="65.65765897341772" width="77.68468205316455" height="77.68468205316455" color-interpolation-filters="sRGB"><feGaussianBlur in="SourceGraphic" stdDeviation="0.6" result="src"/><feColorMatrix in="src" type="matrix" values="1 0 0 0 0  1 0 0 0 0  1 0 0 0 0  0 0 0 0 1" result="bias"/><feColorMatrix in="src" type="matrix" values="0 1 0 0 0  0 1 0 0 0  0 1 0 0 0  0 0 0 0 1" result="amp"/><feTurbulence type="fractalNoise" baseFrequency="0.1 0.5" numOctaves="2" seed="22"/><feColorMatrix type="matrix" values="1 0 0 0 0  1 0 0 0 0  1 0 0 0 0  0 0 0 0 1" result="t0"/><feTurbulence type="fractalNoise" baseFrequency="0.5" numOctaves="1" seed="72"/><feColorMatrix type="matrix" values="1 0 0 0 0  1 0 0 0 0  1 0 0 0 0  0 0 0 0 1" result="t1"/><feComponentTransfer in="t0" result="tx"><feFuncR type="linear" slope="1.5" intercept="-0.25"/><feFuncG type="linear" slope="1.5" intercept="-0.25"/><feFuncB type="linear" slope="1.5" intercept="-0.25"/></feComponentTransfer><feComposite in="tx" in2="t1" operator="arithmetic" k2="1" k3="0.4" k4="-0.2" result="tx"/><feComposite in="amp" in2="tx" operator="arithmetic" k1="1" k2="-0.5" k4="0.5" result="s1"/><feComposite in="bias" in2="s1" operator="arithmetic" k2="1" k3="1" k4="-0.5" result="s2"/><feComponentTransfer in="s2"><feFuncR type="table" tableValues="0.000 0.000 0.000 0.000 0.000 0.000 0.000 0.000 0.000 0.125 0.250 0.375 0.500 0.625 0.750 0.875 1.000 1.000 1.000 1.000 1.000 1.000 1.000 1.000 1.000 0.938 0.875 0.812 0.750 0.688 0.625 0.562 0.500"/><feFuncG type="table" tableValues="0.000 0.000 0.000 0.000 0.000 0.000 0.000 0.000 0.000 0.125 0.250 0.375 0.500 0.625 0.750 0.875 1.000 0.875 0.750 0.625 0.500 0.375 0.250 0.125 0.000 0.000 0.000 0.000 0.000 0.000 0.000 0.000 0.000"/><feFuncB type="table" tableValues="0.300 0.388 0.475 0.562 0.650 0.738 0.825 0.912 1.000 1.000 1.000 1.000 1.000 1.000 1.000 1.000 1.000 0.875 0.750 0.625 0.500 0.375 0.250 0.125 0.000 0.000 0.000 0.000 0.000 0.000 0.000 0.000 0.000"/><feFuncA type="linear" slope="0" intercept="1"/></feComponentTransfer></filter><clipPath id="c47"><rect x="345" y="95.5" width="59" height="18"/></clipPath><linearGradient id="h57" gradientUnits="userSpaceOnUse" x1="394.4583654340201" y1="0" x2="464.54163456597996" y2="0"><stop offset="0.0000" stop-color="rgb(127,40,0)"/><stop offset="1.0000" stop-color="rgb(127,40,0)"/></linearGradient><linearGradient id="h58" gradientUnits="userSpaceOnUse" x1="394.4583654340201" y1="0" x2="464.54163456597996" y2="0"><stop offset="0.0000" stop-color="rgb(127,40,0)"/><stop offset="1.0000" stop-color="rgb(127,40,0)"/></linearGradient><linearGradient id="h59" gradientUnits="userSpaceOnUse" x1="394.4583654340201" y1="0" x2="464.54163456597996" y2="0"><stop offset="0.0000" stop-color="rgb(127,40,0)"/><stop offset="1.0000" stop-color="rgb(127,40,0)"/></linearGradient><linearGradient id="v60" x1="0" y1="0" x2="0" y2="1"><stop offset="0" stop-color="#fff" stop-opacity="0"/><stop offset="0.11414992621044538" stop-color="#fff" stop-opacity="0"/><stop offset="0.24256859319719645" stop-color="#fff" stop-opacity="1"/><stop offset="0.3709872601839475" stop-color="#fff" stop-opacity="0"/><stop offset="1" stop-color="#fff" stop-opacity="0"/></linearGradient><mask id="m61" maskContentUnits="objectBoundingBox"><rect x="0" y="0" width="1" height="1" fill="url(#v60)"/></mask><linearGradient id="v62" x1="0" y1="0" x2="0" y2="1"><stop offset="0" stop-color="#fff" stop-opacity="1"/><stop offset="0.11414992621044538" stop-color="#fff" stop-opacity="1"/><stop offset="0.24256859319719645" stop-color="#fff" stop-opacity="0"/><stop offset="1" stop-color="#fff" stop-opacity="0"/></linearGradient><mask id="m63" maskContentUnits="objectBoundingBox"><rect x="0" y="0" width="1" height="1" fill="url(#v62)"/></mask><filter id="f55" filterUnits="userSpaceOnUse" x="394.4583654340201" y="69.45836543402008" width="70.08326913195984" height="70.08326913195984" color-interpolation-filters="sRGB"><feGaussianBlur in="SourceGraphic" stdDeviation="0.6" result="src"/><feColorMatrix in="src" type="matrix" values="1 0 0 0 0  1 0 0 0 0  1 0 0 0 0  0 0 0 0 1" result="bias"/><feColorMatrix in="src" type="matrix" values="0 1 0 0 0  0 1 0 0 0  0 1 0 0 0  0 0 0 0 1" result="amp"/><feTurbulence type="fractalNoise" baseFrequency="0.1 0.5" numOctaves="2" seed="23"/><feColorMatrix type="matrix" values="1 0 0 0 0  1 0 0 0 0  1 0 0 0 0  0 0 0 0 1" result="t0"/><feTurbulence type="fractalNoise" baseFrequency="0.5" numOctaves="1" seed="73"/><feColorMatrix type="matrix" values="1 0 0 0 0  1 0 0 0 0  1 0 0 0 0  0 0 0 0 1" result="t1"/><feComponentTransfer in="t0" result="tx"><feFuncR type="linear" slope="1.5" intercept="-0.25"/><feFuncG type="linear" slope="1.5" intercept="-0.25"/><feFuncB type="linear" slope="1.5" intercept="-0.25"/></feComponentTransfer><feComposite in="tx" in2="t1" operator="arithmetic" k2="1" k3="0.4" k4="-0.2" result="tx"/><feComposite in="amp" in2="tx" operator="arithmetic" k1="1" k2="-0.5" k4="0.5" result="s1"/><feComposite in="bias" in2="s1" operator="arithmetic" k2="1" k3="1" k4="-0.5" result="s2"/><feComponentTransfer in="s2"><feFuncR type="table" tableValues="0.000 0.000 0.000 0.000 0.000 0.000 0.000 0.000 0.000 0.125 0.250 0.375 0.500 0.625 0.750 0.875 1.000 1.000 1.000 1.000 1.000 1.000 1.000 1.000 1.000 0.938 0.875 0.812 0.750 0.688 0.625 0.562 0.500"/><feFuncG type="table" tableValues="0.000 0.000 0.000 0.000 0.000 0.000 0.000 0.000 0.000 0.125 0.250 0.375 0.500 0.625 0.750 0.875 1.000 0.875 0.750 0.625 0.500 0.375 0.250 0.125 0.000 0.000 0.000 0.000 0.000 0.000 0.000 0.000 0.000"/><feFuncB type="table" tableValues="0.300 0.388 0.475 0.562 0.650 0.738 0.825 0.912 1.000 1.000 1.000 1.000 1.000 1.000 1.000 1.000 1.000 0.875 0.750 0.625 0.500 0.375 0.250 0.125 0.000 0.000 0.000 0.000 0.000 0.000 0.000 0.000 0.000"/><feFuncA type="linear" slope="0" intercept="1"/></feComponentTransfer></filter><clipPath id="c56"><rect x="404" y="95.5" width="51" height="18"/></clipPath><linearGradient id="h66" gradientUnits="userSpaceOnUse" x1="445.63554709862206" y1="0" x2="522.364452901378" y2="0"><stop offset="0.0000" stop-color="rgb(127,40,0)"/><stop offset="1.0000" stop-color="rgb(127,40,0)"/></linearGradient><linearGradient id="h67" gradientUnits="userSpaceOnUse" x1="445.63554709862206" y1="0" x2="522.364452901378" y2="0"><stop offset="0.0000" stop-color="rgb(127,40,0)"/><stop offset="1.0000" stop-color="rgb(127,40,0)"/></linearGradient><linearGradient id="h68" gradientUnits="userSpaceOnUse" x1="445.63554709862206" y1="0" x2="522.364452901378" y2="0"><stop offset="0.0000" stop-color="rgb(127,40,0)"/><stop offset="1.0000" stop-color="rgb(127,40,0)"/></linearGradient><linearGradient id="v69" x1="0" y1="0" x2="0" y2="1"><stop offset="0" stop-color="#fff" stop-opacity="0"/><stop offset="0.1042631836894077" stop-color="#fff" stop-opacity="0"/><stop offset="0.22155926533999137" stop-color="#fff" stop-opacity="1"/><stop offset="0.33885534699057507" stop-color="#fff" stop-opacity="0"/><stop offset="1" stop-color="#fff" stop-opacity="0"/></linearGradient><mask id="m70" maskContentUnits="objectBoundingBox"><rect x="0" y="0" width="1" height="1" fill="url(#v69)"/></mask><linearGradient id="v71" x1="0" y1="0" x2="0" y2="1"><stop offset="0" stop-color="#fff" stop-opacity="1"/><stop offset="0.1042631836894077" stop-color="#fff" stop-opacity="1"/><stop offset="0.22155926533999137" stop-color="#fff" stop-opacity="0"/><stop offset="1" stop-color="#fff" stop-opacity="0"/></linearGradient><mask id="m72" maskContentUnits="objectBoundingBox"><rect x="0" y="0" width="1" height="1" fill="url(#v71)"/></mask><filter id="f64" filterUnits="userSpaceOnUse" x="445.63554709862206" y="66.13554709862206" width="76.7289058027559" height="76.7289058027559" color-interpolation-filters="sRGB"><feGaussianBlur in="SourceGraphic" stdDeviation="0.6" result="src"/><feColorMatrix in="src" type="matrix" values="1 0 0 0 0  1 0 0 0 0  1 0 0 0 0  0 0 0 0 1" result="bias"/><feColorMatrix in="src" type="matrix" values="0 1 0 0 0  0 1 0 0 0  0 1 0 0 0  0 0 0 0 1" result="amp"/><feTurbulence type="fractalNoise" baseFrequency="0.1 0.5" numOctaves="2" seed="24"/><feColorMatrix type="matrix" values="1 0 0 0 0  1 0 0 0 0  1 0 0 0 0  0 0 0 0 1" result="t0"/><feTurbulence type="fractalNoise" baseFrequency="0.5" numOctaves="1" seed="74"/><feColorMatrix type="matrix" values="1 0 0 0 0  1 0 0 0 0  1 0 0 0 0  0 0 0 0 1" result="t1"/><feComponentTransfer in="t0" result="tx"><feFuncR type="linear" slope="1.5" intercept="-0.25"/><feFuncG type="linear" slope="1.5" intercept="-0.25"/><feFuncB type="linear" slope="1.5" intercept="-0.25"/></feComponentTransfer><feComposite in="tx" in2="t1" operator="arithmetic" k2="1" k3="0.4" k4="-0.2" result="tx"/><feComposite in="amp" in2="tx" operator="arithmetic" k1="1" k2="-0.5" k4="0.5" result="s1"/><feComposite in="bias" in2="s1" operator="arithmetic" k2="1" k3="1" k4="-0.5" result="s2"/><feComponentTransfer in="s2"><feFuncR type="table" tableValues="0.000 0.000 0.000 0.000 0.000 0.000 0.000 0.000 0.000 0.125 0.250 0.375 0.500 0.625 0.750 0.875 1.000 1.000 1.000 1.000 1.000 1.000 1.000 1.000 1.000 0.938 0.875 0.812 0.750 0.688 0.625 0.562 0.500"/><feFuncG type="table" tableValues="0.000 0.000 0.000 0.000 0.000 0.000 0.000 0.000 0.000 0.125 0.250 0.375 0.500 0.625 0.750 0.875 1.000 0.875 0.750 0.625 0.500 0.375 0.250 0.125 0.000 0.000 0.000 0.000 0.000 0.000 0.000 0.000 0.000"/><feFuncB type="table" tableValues="0.300 0.388 0.475 0.562 0.650 0.738 0.825 0.912 1.000 1.000 1.000 1.000 1.000 1.000 1.000 1.000 1.000 0.875 0.750 0.625 0.500 0.375 0.250 0.125 0.000 0.000 0.000 0.000 0.000 0.000 0.000 0.000 0.000"/><feFuncA type="linear" slope="0" intercept="1"/></feComponentTransfer></filter><clipPath id="c65"><rect x="455" y="95.5" width="58" height="18"/></clipPath><linearGradient id="h75" gradientUnits="userSpaceOnUse" x1="273.3982735629996" y1="0" x2="325.6017264370004" y2="0"><stop offset="0.0000" stop-color="rgb(127,40,0)"/><stop offset="1.0000" stop-color="rgb(127,40,0)"/></linearGradient><linearGradient id="h76" gradientUnits="userSpaceOnUse" x1="273.3982735629996" y1="0" x2="325.6017264370004" y2="0"><stop offset="0.0000" stop-color="rgb(127,40,0)"/><stop offset="1.0000" stop-color="rgb(127,40,0)"/></linearGradient><linearGradient id="h77" gradientUnits="userSpaceOnUse" x1="273.3982735629996" y1="0" x2="325.6017264370004" y2="0"><stop offset="0.0000" stop-color="rgb(127,40,0)"/><stop offset="1.0000" stop-color="rgb(127,40,0)"/></linearGradient><linearGradient id="v78" x1="0" y1="0" x2="0" y2="1"><stop offset="0" stop-color="#fff" stop-opacity="0"/><stop offset="0.15324656817833368" stop-color="#fff" stop-opacity="0"/><stop offset="0.3323534947367612" stop-color="#fff" stop-opacity="1"/><stop offset="0.5114604212951886" stop-color="#fff" stop-opacity="0"/><stop offset="1" stop-color="#fff" stop-opacity="0"/></linearGradient><mask id="m79" maskContentUnits="objectBoundingBox"><rect x="0" y="0" width="1" height="1" fill="url(#v78)"/></mask><linearGradient id="v80" x1="0" y1="0" x2="0" y2="1"><stop offset="0" stop-color="#fff" stop-opacity="1"/><stop offset="0.15324656817833368" stop-color="#fff" stop-opacity="1"/><stop offset="0.3323534947367612" stop-color="#fff" stop-opacity="0"/><stop offset="1" stop-color="#fff" stop-opacity="0"/></linearGradient><mask id="m81" maskContentUnits="objectBoundingBox"><rect x="0" y="0" width="1" height="1" fill="url(#v80)"/></mask><filter id="f73" filterUnits="userSpaceOnUse" x="273.3982735629996" y="104.54827356299958" width="52.203452874000845" height="52.203452874000845" color-interpolation-filters="sRGB"><feGaussianBlur in="SourceGraphic" stdDeviation="0.6" result="src"/><feColorMatrix in="src" type="matrix" values="1 0 0 0 0  1 0 0 0 0  1 0 0 0 0  0 0 0 0 1" result="bias"/><feColorMatrix in="src" type="matrix" values="0 1 0 0 0  0 1 0 0 0  0 1 0 0 0  0 0 0 0 1" result="amp"/><feTurbulence type="fractalNoise" baseFrequency="0.1 0.5" numOctaves="2" seed="31"/><feColorMatrix type="matrix" values="1 0 0 0 0  1 0 0 0 0  1 0 0 0 0  0 0 0 0 1" result="t0"/><feTurbulence type="fractalNoise" baseFrequency="0.5" numOctaves="1" seed="81"/><feColorMatrix type="matrix" values="1 0 0 0 0  1 0 0 0 0  1 0 0 0 0  0 0 0 0 1" result="t1"/><feComponentTransfer in="t0" result="tx"><feFuncR type="linear" slope="1.5" intercept="-0.25"/><feFuncG type="linear" slope="1.5" intercept="-0.25"/><feFuncB type="linear" slope="1.5" intercept="-0.25"/></feComponentTransfer><feComposite in="tx" in2="t1" operator="arithmetic" k2="1" k3="0.4" k4="-0.2" result="tx"/><feComposite in="amp" in2="tx" operator="arithmetic" k1="1" k2="-0.5" k4="0.5" result="s1"/><feComposite in="bias" in2="s1" operator="arithmetic" k2="1" k3="1" k4="-0.5" result="s2"/><feComponentTransfer in="s2"><feFuncR type="table" tableValues="0.000 0.000 0.000 0.000 0.000 0.000 0.000 0.000 0.000 0.125 0.250 0.375 0.500 0.625 0.750 0.875 1.000 1.000 1.000 1.000 1.000 1.000 1.000 1.000 1.000 0.938 0.875 0.812 0.750 0.688 0.625 0.562 0.500"/><feFuncG type="table" tableValues="0.000 0.000 0.000 0.000 0.000 0.000 0.000 0.000 0.000 0.125 0.250 0.375 0.500 0.625 0.750 0.875 1.000 0.875 0.750 0.625 0.500 0.375 0.250 0.125 0.000 0.000 0.000 0.000 0.000 0.000 0.000 0.000 0.000"/><feFuncB type="table" tableValues="0.300 0.388 0.475 0.562 0.650 0.738 0.825 0.912 1.000 1.000 1.000 1.000 1.000 1.000 1.000 1.000 1.000 0.875 0.750 0.625 0.500 0.375 0.250 0.125 0.000 0.000 0.000 0.000 0.000 0.000 0.000 0.000 0.000"/><feFuncA type="linear" slope="0" intercept="1"/></feComponentTransfer></filter><clipPath id="c74"><rect x="284" y="121.3" width="31" height="18.7"/></clipPath><linearGradient id="h84" gradientUnits="userSpaceOnUse" x1="304.3245226372808" y1="0" x2="355.6754773627192" y2="0"><stop offset="0.0000" stop-color="rgb(127,40,0)"/><stop offset="1.0000" stop-color="rgb(127,40,0)"/></linearGradient><linearGradient id="h85" gradientUnits="userSpaceOnUse" x1="304.3245226372808" y1="0" x2="355.6754773627192" y2="0"><stop offset="0.0000" stop-color="rgb(127,40,0)"/><stop offset="1.0000" stop-color="rgb(127,40,0)"/></linearGradient><linearGradient id="h86" gradientUnits="userSpaceOnUse" x1="304.3245226372808" y1="0" x2="355.6754773627192" y2="0"><stop offset="0.0000" stop-color="rgb(127,40,0)"/><stop offset="1.0000" stop-color="rgb(127,40,0)"/></linearGradient><linearGradient id="v87" x1="0" y1="0" x2="0" y2="1"><stop offset="0" stop-color="#fff" stop-opacity="0"/><stop offset="0.15579067697522136" stop-color="#fff" stop-opacity="0"/><stop offset="0.33787103069001134" stop-color="#fff" stop-opacity="1"/><stop offset="0.5199513844048013" stop-color="#fff" stop-opacity="0"/><stop offset="1" stop-color="#fff" stop-opacity="0"/></linearGradient><mask id="m88" maskContentUnits="objectBoundingBox"><rect x="0" y="0" width="1" height="1" fill="url(#v87)"/></mask><linearGradient id="v89" x1="0" y1="0" x2="0" y2="1"><stop offset="0" stop-color="#fff" stop-opacity="1"/><stop offset="0.15579067697522136" stop-color="#fff" stop-opacity="1"/><stop offset="0.33787103069001134" stop-color="#fff" stop-opacity="0"/><stop offset="1" stop-color="#fff" stop-opacity="0"/></linearGradient><mask id="m90" maskContentUnits="objectBoundingBox"><rect x="0" y="0" width="1" height="1" fill="url(#v89)"/></mask><filter id="f82" filterUnits="userSpaceOnUse" x="304.3245226372808" y="104.97452263728077" width="51.35095472543846" height="51.35095472543846" color-interpolation-filters="sRGB"><feGaussianBlur in="SourceGraphic" stdDeviation="0.6" result="src"/><feColorMatrix in="src" type="matrix" values="1 0 0 0 0  1 0 0 0 0  1 0 0 0 0  0 0 0 0 1" result="bias"/><feColorMatrix in="src" type="matrix" values="0 1 0 0 0  0 1 0 0 0  0 1 0 0 0  0 0 0 0 1" result="amp"/><feTurbulence type="fractalNoise" baseFrequency="0.1 0.5" numOctaves="2" seed="32"/><feColorMatrix type="matrix" values="1 0 0 0 0  1 0 0 0 0  1 0 0 0 0  0 0 0 0 1" result="t0"/><feTurbulence type="fractalNoise" baseFrequency="0.5" numOctaves="1" seed="82"/><feColorMatrix type="matrix" values="1 0 0 0 0  1 0 0 0 0  1 0 0 0 0  0 0 0 0 1" result="t1"/><feComponentTransfer in="t0" result="tx"><feFuncR type="linear" slope="1.5" intercept="-0.25"/><feFuncG type="linear" slope="1.5" intercept="-0.25"/><feFuncB type="linear" slope="1.5" intercept="-0.25"/></feComponentTransfer><feComposite in="tx" in2="t1" operator="arithmetic" k2="1" k3="0.4" k4="-0.2" result="tx"/><feComposite in="amp" in2="tx" operator="arithmetic" k1="1" k2="-0.5" k4="0.5" result="s1"/><feComposite in="bias" in2="s1" operator="arithmetic" k2="1" k3="1" k4="-0.5" result="s2"/><feComponentTransfer in="s2"><feFuncR type="table" tableValues="0.000 0.000 0.000 0.000 0.000 0.000 0.000 0.000 0.000 0.125 0.250 0.375 0.500 0.625 0.750 0.875 1.000 1.000 1.000 1.000 1.000 1.000 1.000 1.000 1.000 0.938 0.875 0.812 0.750 0.688 0.625 0.562 0.500"/><feFuncG type="table" tableValues="0.000 0.000 0.000 0.000 0.000 0.000 0.000 0.000 0.000 0.125 0.250 0.375 0.500 0.625 0.750 0.875 1.000 0.875 0.750 0.625 0.500 0.375 0.250 0.125 0.000 0.000 0.000 0.000 0.000 0.000 0.000 0.000 0.000"/><feFuncB type="table" tableValues="0.300 0.388 0.475 0.562 0.650 0.738 0.825 0.912 1.000 1.000 1.000 1.000 1.000 1.000 1.000 1.000 1.000 0.875 0.750 0.625 0.500 0.375 0.250 0.125 0.000 0.000 0.000 0.000 0.000 0.000 0.000 0.000 0.000"/><feFuncA type="linear" slope="0" intercept="1"/></feComponentTransfer></filter><clipPath id="c83"><rect x="315" y="121.3" width="30" height="18.7"/></clipPath><linearGradient id="h93" gradientUnits="userSpaceOnUse" x1="335.55371589350347" y1="0" x2="413.44628410649653" y2="0"><stop offset="0.0000" stop-color="rgb(127,40,0)"/><stop offset="1.0000" stop-color="rgb(127,40,0)"/></linearGradient><linearGradient id="h94" gradientUnits="userSpaceOnUse" x1="335.55371589350347" y1="0" x2="413.44628410649653" y2="0"><stop offset="0.0000" stop-color="rgb(127,40,0)"/><stop offset="1.0000" stop-color="rgb(127,40,0)"/></linearGradient><linearGradient id="h95" gradientUnits="userSpaceOnUse" x1="335.55371589350347" y1="0" x2="413.44628410649653" y2="0"><stop offset="0.0000" stop-color="rgb(127,40,0)"/><stop offset="1.0000" stop-color="rgb(127,40,0)"/></linearGradient><linearGradient id="v96" x1="0" y1="0" x2="0" y2="1"><stop offset="0" stop-color="#fff" stop-opacity="0"/><stop offset="0.10270556207781502" stop-color="#fff" stop-opacity="0"/><stop offset="0.2227426877562613" stop-color="#fff" stop-opacity="1"/><stop offset="0.3427798134347076" stop-color="#fff" stop-opacity="0"/><stop offset="1" stop-color="#fff" stop-opacity="0"/></linearGradient><mask id="m97" maskContentUnits="objectBoundingBox"><rect x="0" y="0" width="1" height="1" fill="url(#v96)"/></mask><linearGradient id="v98" x1="0" y1="0" x2="0" y2="1"><stop offset="0" stop-color="#fff" stop-opacity="1"/><stop offset="0.10270556207781502" stop-color="#fff" stop-opacity="1"/><stop offset="0.2227426877562613" stop-color="#fff" stop-opacity="0"/><stop offset="1" stop-color="#fff" stop-opacity="0"/></linearGradient><mask id="m99" maskContentUnits="objectBoundingBox"><rect x="0" y="0" width="1" height="1" fill="url(#v98)"/></mask><filter id="f91" filterUnits="userSpaceOnUse" x="335.55371589350347" y="91.70371589350347" width="77.89256821299307" height="77.89256821299307" color-interpolation-filters="sRGB"><feGaussianBlur in="SourceGraphic" stdDeviation="0.6" result="src"/><feColorMatrix in="src" type="matrix" values="1 0 0 0 0  1 0 0 0 0  1 0 0 0 0  0 0 0 0 1" result="bias"/><feColorMatrix in="src" type="matrix" values="0 1 0 0 0  0 1 0 0 0  0 1 0 0 0  0 0 0 0 1" result="amp"/><feTurbulence type="fractalNoise" baseFrequency="0.1 0.5" numOctaves="2" seed="33"/><feColorMatrix type="matrix" values="1 0 0 0 0  1 0 0 0 0  1 0 0 0 0  0 0 0 0 1" result="t0"/><feTurbulence type="fractalNoise" baseFrequency="0.5" numOctaves="1" seed="83"/><feColorMatrix type="matrix" values="1 0 0 0 0  1 0 0 0 0  1 0 0 0 0  0 0 0 0 1" result="t1"/><feComponentTransfer in="t0" result="tx"><feFuncR type="linear" slope="1.5" intercept="-0.25"/><feFuncG type="linear" slope="1.5" intercept="-0.25"/><feFuncB type="linear" slope="1.5" intercept="-0.25"/></feComponentTransfer><feComposite in="tx" in2="t1" operator="arithmetic" k2="1" k3="0.4" k4="-0.2" result="tx"/><feComposite in="amp" in2="tx" operator="arithmetic" k1="1" k2="-0.5" k4="0.5" result="s1"/><feComposite in="bias" in2="s1" operator="arithmetic" k2="1" k3="1" k4="-0.5" result="s2"/><feComponentTransfer in="s2"><feFuncR type="table" tableValues="0.000 0.000 0.000 0.000 0.000 0.000 0.000 0.000 0.000 0.125 0.250 0.375 0.500 0.625 0.750 0.875 1.000 1.000 1.000 1.000 1.000 1.000 1.000 1.000 1.000 0.938 0.875 0.812 0.750 0.688 0.625 0.562 0.500"/><feFuncG type="table" tableValues="0.000 0.000 0.000 0.000 0.000 0.000 0.000 0.000 0.000 0.125 0.250 0.375 0.500 0.625 0.750 0.875 1.000 0.875 0.750 0.625 0.500 0.375 0.250 0.125 0.000 0.000 0.000 0.000 0.000 0.000 0.000 0.000 0.000"/><feFuncB type="table" tableValues="0.300 0.388 0.475 0.562 0.650 0.738 0.825 0.912 1.000 1.000 1.000 1.000 1.000 1.000 1.000 1.000 1.000 0.875 0.750 0.625 0.500 0.375 0.250 0.125 0.000 0.000 0.000 0.000 0.000 0.000 0.000 0.000 0.000"/><feFuncA type="linear" slope="0" intercept="1"/></feComponentTransfer></filter><clipPath id="c92"><rect x="345" y="121.3" width="59" height="18.7"/></clipPath><linearGradient id="h102" gradientUnits="userSpaceOnUse" x1="394.4801338078913" y1="0" x2="469.5198661921087" y2="0"><stop offset="0.0000" stop-color="rgb(127,40,0)"/><stop offset="1.0000" stop-color="rgb(127,40,0)"/></linearGradient><linearGradient id="h103" gradientUnits="userSpaceOnUse" x1="394.4801338078913" y1="0" x2="469.5198661921087" y2="0"><stop offset="0.0000" stop-color="rgb(127,40,0)"/><stop offset="1.0000" stop-color="rgb(127,40,0)"/></linearGradient><linearGradient id="h104" gradientUnits="userSpaceOnUse" x1="394.4801338078913" y1="0" x2="469.5198661921087" y2="0"><stop offset="0.0000" stop-color="rgb(127,40,0)"/><stop offset="1.0000" stop-color="rgb(127,40,0)"/></linearGradient><linearGradient id="v105" x1="0" y1="0" x2="0" y2="1"><stop offset="0" stop-color="#fff" stop-opacity="0"/><stop offset="0.10661018830715598" stop-color="#fff" stop-opacity="0"/><stop offset="0.23121084589114452" stop-color="#fff" stop-opacity="1"/><stop offset="0.3558115034751331" stop-color="#fff" stop-opacity="0"/><stop offset="1" stop-color="#fff" stop-opacity="0"/></linearGradient><mask id="m106" maskContentUnits="objectBoundingBox"><rect x="0" y="0" width="1" height="1" fill="url(#v105)"/></mask><linearGradient id="v107" x1="0" y1="0" x2="0" y2="1"><stop offset="0" stop-color="#fff" stop-opacity="1"/><stop offset="0.10661018830715598" stop-color="#fff" stop-opacity="1"/><stop offset="0.23121084589114452" stop-color="#fff" stop-opacity="0"/><stop offset="1" stop-color="#fff" stop-opacity="0"/></linearGradient><mask id="m108" maskContentUnits="objectBoundingBox"><rect x="0" y="0" width="1" height="1" fill="url(#v107)"/></mask><filter id="f100" filterUnits="userSpaceOnUse" x="394.4801338078913" y="93.13013380789134" width="75.03973238421733" height="75.03973238421733" color-interpolation-filters="sRGB"><feGaussianBlur in="SourceGraphic" stdDeviation="0.6" result="src"/><feColorMatrix in="src" type="matrix" values="1 0 0 0 0  1 0 0 0 0  1 0 0 0 0  0 0 0 0 1" result="bias"/><feColorMatrix in="src" type="matrix" values="0 1 0 0 0  0 1 0 0 0  0 1 0 0 0  0 0 0 0 1" result="amp"/><feTurbulence type="fractalNoise" baseFrequency="0.1 0.5" numOctaves="2" seed="34"/><feColorMatrix type="matrix" values="1 0 0 0 0  1 0 0 0 0  1 0 0 0 0  0 0 0 0 1" result="t0"/><feTurbulence type="fractalNoise" baseFrequency="0.5" numOctaves="1" seed="84"/><feColorMatrix type="matrix" values="1 0 0 0 0  1 0 0 0 0  1 0 0 0 0  0 0 0 0 1" result="t1"/><feComponentTransfer in="t0" result="tx"><feFuncR type="linear" slope="1.5" intercept="-0.25"/><feFuncG type="linear" slope="1.5" intercept="-0.25"/><feFuncB type="linear" slope="1.5" intercept="-0.25"/></feComponentTransfer><feComposite in="tx" in2="t1" operator="arithmetic" k2="1" k3="0.4" k4="-0.2" result="tx"/><feComposite in="amp" in2="tx" operator="arithmetic" k1="1" k2="-0.5" k4="0.5" result="s1"/><feComposite in="bias" in2="s1" operator="arithmetic" k2="1" k3="1" k4="-0.5" result="s2"/><feComponentTransfer in="s2"><feFuncR type="table" tableValues="0.000 0.000 0.000 0.000 0.000 0.000 0.000 0.000 0.000 0.125 0.250 0.375 0.500 0.625 0.750 0.875 1.000 1.000 1.000 1.000 1.000 1.000 1.000 1.000 1.000 0.938 0.875 0.812 0.750 0.688 0.625 0.562 0.500"/><feFuncG type="table" tableValues="0.000 0.000 0.000 0.000 0.000 0.000 0.000 0.000 0.000 0.125 0.250 0.375 0.500 0.625 0.750 0.875 1.000 0.875 0.750 0.625 0.500 0.375 0.250 0.125 0.000 0.000 0.000 0.000 0.000 0.000 0.000 0.000 0.000"/><feFuncB type="table" tableValues="0.300 0.388 0.475 0.562 0.650 0.738 0.825 0.912 1.000 1.000 1.000 1.000 1.000 1.000 1.000 1.000 1.000 0.875 0.750 0.625 0.500 0.375 0.250 0.125 0.000 0.000 0.000 0.000 0.000 0.000 0.000 0.000 0.000"/><feFuncA type="linear" slope="0" intercept="1"/></feComponentTransfer></filter><clipPath id="c101"><rect x="404" y="121.3" width="56" height="18.7"/></clipPath><linearGradient id="h111" gradientUnits="userSpaceOnUse" x1="450.3988879223615" y1="0" x2="522.6011120776385" y2="0"><stop offset="0.0000" stop-color="rgb(127,40,0)"/><stop offset="1.0000" stop-color="rgb(127,40,0)"/></linearGradient><linearGradient id="h112" gradientUnits="userSpaceOnUse" x1="450.3988879223615" y1="0" x2="522.6011120776385" y2="0"><stop offset="0.0000" stop-color="rgb(127,40,0)"/><stop offset="1.0000" stop-color="rgb(127,40,0)"/></linearGradient><linearGradient id="h113" gradientUnits="userSpaceOnUse" x1="450.3988879223615" y1="0" x2="522.6011120776385" y2="0"><stop offset="0.0000" stop-color="rgb(127,40,0)"/><stop offset="1.0000" stop-color="rgb(127,40,0)"/></linearGradient><linearGradient id="v114" x1="0" y1="0" x2="0" y2="1"><stop offset="0" stop-color="#fff" stop-opacity="0"/><stop offset="0.11079991085586677" stop-color="#fff" stop-opacity="0"/><stop offset="0.24029730666866106" stop-color="#fff" stop-opacity="1"/><stop offset="0.36979470248145535" stop-color="#fff" stop-opacity="0"/><stop offset="1" stop-color="#fff" stop-opacity="0"/></linearGradient><mask id="m115" maskContentUnits="objectBoundingBox"><rect x="0" y="0" width="1" height="1" fill="url(#v114)"/></mask><linearGradient id="v116" x1="0" y1="0" x2="0" y2="1"><stop offset="0" stop-color="#fff" stop-opacity="1"/><stop offset="0.11079991085586677" stop-color="#fff" stop-opacity="1"/><stop offset="0.24029730666866106" stop-color="#fff" stop-opacity="0"/><stop offset="1" stop-color="#fff" stop-opacity="0"/></linearGradient><mask id="m117" maskContentUnits="objectBoundingBox"><rect x="0" y="0" width="1" height="1" fill="url(#v116)"/></mask><filter id="f109" filterUnits="userSpaceOnUse" x="450.3988879223615" y="94.54888792236152" width="72.20222415527698" height="72.20222415527698" color-interpolation-filters="sRGB"><feGaussianBlur in="SourceGraphic" stdDeviation="0.6" result="src"/><feColorMatrix in="src" type="matrix" values="1 0 0 0 0  1 0 0 0 0  1 0 0 0 0  0 0 0 0 1" result="bias"/><feColorMatrix in="src" type="matrix" values="0 1 0 0 0  0 1 0 0 0  0 1 0 0 0  0 0 0 0 1" result="amp"/><feTurbulence type="fractalNoise" baseFrequency="0.1 0.5" numOctaves="2" seed="35"/><feColorMatrix type="matrix" values="1 0 0 0 0  1 0 0 0 0  1 0 0 0 0  0 0 0 0 1" result="t0"/><feTurbulence type="fractalNoise" baseFrequency="0.5" numOctaves="1" seed="85"/><feColorMatrix type="matrix" values="1 0 0 0 0  1 0 0 0 0  1 0 0 0 0  0 0 0 0 1" result="t1"/><feComponentTransfer in="t0" result="tx"><feFuncR type="linear" slope="1.5" intercept="-0.25"/><feFuncG type="linear" slope="1.5" intercept="-0.25"/><feFuncB type="linear" slope="1.5" intercept="-0.25"/></feComponentTransfer><feComposite in="tx" in2="t1" operator="arithmetic" k2="1" k3="0.4" k4="-0.2" result="tx"/><feComposite in="amp" in2="tx" operator="arithmetic" k1="1" k2="-0.5" k4="0.5" result="s1"/><feComposite in="bias" in2="s1" operator="arithmetic" k2="1" k3="1" k4="-0.5" result="s2"/><feComponentTransfer in="s2"><feFuncR type="table" tableValues="0.000 0.000 0.000 0.000 0.000 0.000 0.000 0.000 0.000 0.125 0.250 0.375 0.500 0.625 0.750 0.875 1.000 1.000 1.000 1.000 1.000 1.000 1.000 1.000 1.000 0.938 0.875 0.812 0.750 0.688 0.625 0.562 0.500"/><feFuncG type="table" tableValues="0.000 0.000 0.000 0.000 0.000 0.000 0.000 0.000 0.000 0.125 0.250 0.375 0.500 0.625 0.750 0.875 1.000 0.875 0.750 0.625 0.500 0.375 0.250 0.125 0.000 0.000 0.000 0.000 0.000 0.000 0.000 0.000 0.000"/><feFuncB type="table" tableValues="0.300 0.388 0.475 0.562 0.650 0.738 0.825 0.912 1.000 1.000 1.000 1.000 1.000 1.000 1.000 1.000 1.000 0.875 0.750 0.625 0.500 0.375 0.250 0.125 0.000 0.000 0.000 0.000 0.000 0.000 0.000 0.000 0.000"/><feFuncA type="linear" slope="0" intercept="1"/></feComponentTransfer></filter><clipPath id="c110"><rect x="460" y="121.3" width="53" height="18.7"/></clipPath><linearGradient id="h120" gradientUnits="userSpaceOnUse" x1="278" y1="0" x2="519" y2="0"><stop offset="0.0000" stop-color="rgb(127,43,0)"/><stop offset="1.0000" stop-color="rgb(127,43,0)"/></linearGradient><linearGradient id="h121" gradientUnits="userSpaceOnUse" x1="278" y1="0" x2="519" y2="0"><stop offset="0.0000" stop-color="rgb(127,43,0)"/><stop offset="1.0000" stop-color="rgb(127,43,0)"/></linearGradient><linearGradient id="h122" gradientUnits="userSpaceOnUse" x1="278" y1="0" x2="519" y2="0"><stop offset="0.0000" stop-color="rgb(127,43,0)"/><stop offset="1.0000" stop-color="rgb(127,43,0)"/></linearGradient><linearGradient id="v123" x1="0" y1="0" x2="0" y2="1"><stop offset="0" stop-color="#fff" stop-opacity="0"/><stop offset="0.25" stop-color="#fff" stop-opacity="0"/><stop offset="0.5" stop-color="#fff" stop-opacity="1"/><stop offset="0.75" stop-color="#fff" stop-opacity="0"/><stop offset="1" stop-color="#fff" stop-opacity="0"/></linearGradient><mask id="m124" maskContentUnits="objectBoundingBox"><rect x="0" y="0" width="1" height="1" fill="url(#v123)"/></mask><linearGradient id="v125" x1="0" y1="0" x2="0" y2="1"><stop offset="0" stop-color="#fff" stop-opacity="1"/><stop offset="0.25" stop-color="#fff" stop-opacity="1"/><stop offset="0.5" stop-color="#fff" stop-opacity="0"/><stop offset="1" stop-color="#fff" stop-opacity="0"/></linearGradient><mask id="m126" maskContentUnits="objectBoundingBox"><rect x="0" y="0" width="1" height="1" fill="url(#v125)"/></mask><filter id="f118" filterUnits="userSpaceOnUse" x="278" y="172.4" width="241" height="32" color-interpolation-filters="sRGB"><feGaussianBlur in="SourceGraphic" stdDeviation="0.6" result="src"/><feColorMatrix in="src" type="matrix" values="1 0 0 0 0  1 0 0 0 0  1 0 0 0 0  0 0 0 0 1" result="bias"/><feColorMatrix in="src" type="matrix" values="0 1 0 0 0  0 1 0 0 0  0 1 0 0 0  0 0 0 0 1" result="amp"/><feTurbulence type="fractalNoise" baseFrequency="0.45" numOctaves="2" seed="43"/><feColorMatrix type="matrix" values="1 0 0 0 0  1 0 0 0 0  1 0 0 0 0  0 0 0 0 1" result="t0"/><feTurbulence type="fractalNoise" baseFrequency="0.1" numOctaves="2" seed="44"/><feColorMatrix type="matrix" values="1 0 0 0 0  1 0 0 0 0  1 0 0 0 0  0 0 0 0 1"/><feComponentTransfer result="t1"><feFuncR type="table" tableValues="0 1 0 1 0 1 0 1 0 1 0"/><feFuncG type="table" tableValues="0 1 0 1 0 1 0 1 0 1 0"/><feFuncB type="table" tableValues="0 1 0 1 0 1 0 1 0 1 0"/></feComponentTransfer><feComponentTransfer in="t0" result="tx"><feFuncR type="linear" slope="1.4" intercept="-0.19999999999999996"/><feFuncG type="linear" slope="1.4" intercept="-0.19999999999999996"/><feFuncB type="linear" slope="1.4" intercept="-0.19999999999999996"/></feComponentTransfer><feComposite in="tx" in2="t1" operator="arithmetic" k2="1" k3="0.4" k4="-0.2" result="tx"/><feComposite in="amp" in2="tx" operator="arithmetic" k1="1" k2="-0.5" k4="0.5" result="s1"/><feComposite in="bias" in2="s1" operator="arithmetic" k2="1" k3="1" k4="-0.5" result="s2"/><feComponentTransfer in="s2"><feFuncR type="table" tableValues="0.000 0.000 0.000 0.000 0.000 0.000 0.000 0.000 0.000 0.125 0.250 0.375 0.500 0.625 0.750 0.875 1.000 1.000 1.000 1.000 1.000 1.000 1.000 1.000 1.000 0.938 0.875 0.812 0.750 0.688 0.625 0.562 0.500"/><feFuncG type="table" tableValues="0.000 0.000 0.000 0.000 0.000 0.000 0.000 0.000 0.000 0.125 0.250 0.375 0.500 0.625 0.750 0.875 1.000 0.875 0.750 0.625 0.500 0.375 0.250 0.125 0.000 0.000 0.000 0.000 0.000 0.000 0.000 0.000 0.000"/><feFuncB type="table" tableValues="0.300 0.388 0.475 0.562 0.650 0.738 0.825 0.912 1.000 1.000 1.000 1.000 1.000 1.000 1.000 1.000 1.000 0.875 0.750 0.625 0.500 0.375 0.250 0.125 0.000 0.000 0.000 0.000 0.000 0.000 0.000 0.000 0.000"/><feFuncA type="linear" slope="0" intercept="1"/></feComponentTransfer></filter><clipPath id="c119"><rect x="286" y="180.4" width="225" height="16"/></clipPath><linearGradient id="h129" gradientUnits="userSpaceOnUse" x1="278" y1="0" x2="519" y2="0"><stop offset="0.0000" stop-color="rgb(127,43,0)"/><stop offset="1.0000" stop-color="rgb(127,43,0)"/></linearGradient><linearGradient id="h130" gradientUnits="userSpaceOnUse" x1="278" y1="0" x2="519" y2="0"><stop offset="0.0000" stop-color="rgb(127,43,0)"/><stop offset="1.0000" stop-color="rgb(127,43,0)"/></linearGradient><linearGradient id="h131" gradientUnits="userSpaceOnUse" x1="278" y1="0" x2="519" y2="0"><stop offset="0.0000" stop-color="rgb(127,43,0)"/><stop offset="1.0000" stop-color="rgb(127,43,0)"/></linearGradient><linearGradient id="v132" x1="0" y1="0" x2="0" y2="1"><stop offset="0" stop-color="#fff" stop-opacity="0"/><stop offset="0.2469135802469136" stop-color="#fff" stop-opacity="0"/><stop offset="0.5" stop-color="#fff" stop-opacity="1"/><stop offset="0.7530864197530864" stop-color="#fff" stop-opacity="0"/><stop offset="1" stop-color="#fff" stop-opacity="0"/></linearGradient><mask id="m133" maskContentUnits="objectBoundingBox"><rect x="0" y="0" width="1" height="1" fill="url(#v132)"/></mask><linearGradient id="v134" x1="0" y1="0" x2="0" y2="1"><stop offset="0" stop-color="#fff" stop-opacity="1"/><stop offset="0.2469135802469136" stop-color="#fff" stop-opacity="1"/><stop offset="0.5" stop-color="#fff" stop-opacity="0"/><stop offset="1" stop-color="#fff" stop-opacity="0"/></linearGradient><mask id="m135" maskContentUnits="objectBoundingBox"><rect x="0" y="0" width="1" height="1" fill="url(#v134)"/></mask><filter id="f127" filterUnits="userSpaceOnUse" x="278" y="198.4" width="241" height="32.4" color-interpolation-filters="sRGB"><feGaussianBlur in="SourceGraphic" stdDeviation="0.6" result="src"/><feColorMatrix in="src" type="matrix" values="1 0 0 0 0  1 0 0 0 0  1 0 0 0 0  0 0 0 0 1" result="bias"/><feColorMatrix in="src" type="matrix" values="0 1 0 0 0  0 1 0 0 0  0 1 0 0 0  0 0 0 0 1" result="amp"/><feTurbulence type="fractalNoise" baseFrequency="0.45" numOctaves="2" seed="53"/><feColorMatrix type="matrix" values="1 0 0 0 0  1 0 0 0 0  1 0 0 0 0  0 0 0 0 1" result="t0"/><feTurbulence type="fractalNoise" baseFrequency="0.1" numOctaves="2" seed="54"/><feColorMatrix type="matrix" values="1 0 0 0 0  1 0 0 0 0  1 0 0 0 0  0 0 0 0 1"/><feComponentTransfer result="t1"><feFuncR type="table" tableValues="0 1 0 1 0 1 0 1 0 1 0"/><feFuncG type="table" tableValues="0 1 0 1 0 1 0 1 0 1 0"/><feFuncB type="table" tableValues="0 1 0 1 0 1 0 1 0 1 0"/></feComponentTransfer><feComponentTransfer in="t0" result="tx"><feFuncR type="linear" slope="1.4" intercept="-0.19999999999999996"/><feFuncG type="linear" slope="1.4" intercept="-0.19999999999999996"/><feFuncB type="linear" slope="1.4" intercept="-0.19999999999999996"/></feComponentTransfer><feComposite in="tx" in2="t1" operator="arithmetic" k2="1" k3="0.4" k4="-0.2" result="tx"/><feComposite in="amp" in2="tx" operator="arithmetic" k1="1" k2="-0.5" k4="0.5" result="s1"/><feComposite in="bias" in2="s1" operator="arithmetic" k2="1" k3="1" k4="-0.5" result="s2"/><feComponentTransfer in="s2"><feFuncR type="table" tableValues="0.000 0.000 0.000 0.000 0.000 0.000 0.000 0.000 0.000 0.125 0.250 0.375 0.500 0.625 0.750 0.875 1.000 1.000 1.000 1.000 1.000 1.000 1.000 1.000 1.000 0.938 0.875 0.812 0.750 0.688 0.625 0.562 0.500"/><feFuncG type="table" tableValues="0.000 0.000 0.000 0.000 0.000 0.000 0.000 0.000 0.000 0.125 0.250 0.375 0.500 0.625 0.750 0.875 1.000 0.875 0.750 0.625 0.500 0.375 0.250 0.125 0.000 0.000 0.000 0.000 0.000 0.000 0.000 0.000 0.000"/><feFuncB type="table" tableValues="0.300 0.388 0.475 0.562 0.650 0.738 0.825 0.912 1.000 1.000 1.000 1.000 1.000 1.000 1.000 1.000 1.000 0.875 0.750 0.625 0.500 0.375 0.250 0.125 0.000 0.000 0.000 0.000 0.000 0.000 0.000 0.000 0.000"/><feFuncA type="linear" slope="0" intercept="1"/></feComponentTransfer></filter><clipPath id="c128"><rect x="286" y="206.4" width="225" height="16.4"/></clipPath><linearGradient id="h138" gradientUnits="userSpaceOnUse" x1="8" y1="0" x2="241.5" y2="0"><stop offset="0.0000" stop-color="rgb(114,153,0)"/><stop offset="0.0343" stop-color="rgb(114,153,0)"/><stop offset="0.0685" stop-color="rgb(132,153,0)"/><stop offset="0.0942" stop-color="rgb(153,153,0)"/><stop offset="0.1285" stop-color="rgb(158,153,0)"/><stop offset="0.1585" stop-color="rgb(153,153,0)"/><stop offset="0.1884" stop-color="rgb(142,153,0)"/><stop offset="0.2227" stop-color="rgb(127,153,0)"/><stop offset="0.2655" stop-color="rgb(112,153,0)"/><stop offset="0.3084" stop-color="rgb(132,153,0)"/><stop offset="0.3340" stop-color="rgb(140,153,0)"/><stop offset="0.3469" stop-color="rgb(35,76,0)"/><stop offset="0.3640" stop-color="rgb(30,76,0)"/><stop offset="0.3769" stop-color="rgb(188,255,0)"/><stop offset="0.4154" stop-color="rgb(183,255,0)"/><stop offset="0.4540" stop-color="rgb(178,255,0)"/><stop offset="0.4711" stop-color="rgb(137,140,0)"/><stop offset="0.5225" stop-color="rgb(137,127,0)"/><stop offset="0.5739" stop-color="rgb(140,153,0)"/><stop offset="0.6081" stop-color="rgb(158,204,0)"/><stop offset="0.6724" stop-color="rgb(142,204,0)"/><stop offset="0.7152" stop-color="rgb(81,178,0)"/><stop offset="0.7580" stop-color="rgb(61,178,0)"/><stop offset="0.7923" stop-color="rgb(91,178,0)"/><stop offset="0.8223" stop-color="rgb(158,204,0)"/><stop offset="0.8651" stop-color="rgb(168,204,0)"/><stop offset="0.9079" stop-color="rgb(158,178,0)"/><stop offset="0.9293" stop-color="rgb(137,102,0)"/><stop offset="0.9465" stop-color="rgb(173,178,0)"/><stop offset="0.9979" stop-color="rgb(173,178,0)"/></linearGradient><linearGradient id="h139" gradientUnits="userSpaceOnUse" x1="8" y1="0" x2="241.5" y2="0"><stop offset="0.0000" stop-color="rgb(107,153,0)"/><stop offset="0.0343" stop-color="rgb(107,153,0)"/><stop offset="0.0685" stop-color="rgb(122,153,0)"/><stop offset="0.0942" stop-color="rgb(145,178,0)"/><stop offset="0.1585" stop-color="rgb(147,178,0)"/><stop offset="0.2141" stop-color="rgb(137,165,0)"/><stop offset="0.2398" stop-color="rgb(112,153,0)"/><stop offset="0.2741" stop-color="rgb(107,153,0)"/><stop offset="0.3084" stop-color="rgb(127,153,0)"/><stop offset="0.3340" stop-color="rgb(140,153,0)"/><stop offset="0.3469" stop-color="rgb(35,76,0)"/><stop offset="0.3640" stop-color="rgb(30,76,0)"/><stop offset="0.3769" stop-color="rgb(188,255,0)"/><stop offset="0.4154" stop-color="rgb(183,255,0)"/><stop offset="0.4540" stop-color="rgb(178,255,0)"/><stop offset="0.4711" stop-color="rgb(137,140,0)"/><stop offset="0.5225" stop-color="rgb(132,127,0)"/><stop offset="0.5739" stop-color="rgb(142,178,0)"/><stop offset="0.6081" stop-color="rgb(183,255,0)"/><stop offset="0.6724" stop-color="rgb(178,255,0)"/><stop offset="0.7152" stop-color="rgb(127,229,0)"/><stop offset="0.7580" stop-color="rgb(102,229,0)"/><stop offset="0.7923" stop-color="rgb(142,229,0)"/><stop offset="0.8223" stop-color="rgb(183,255,0)"/><stop offset="0.8651" stop-color="rgb(183,255,0)"/><stop offset="0.9079" stop-color="rgb(173,229,0)"/><stop offset="0.9293" stop-color="rgb(142,127,0)"/><stop offset="0.9465" stop-color="rgb(183,229,0)"/><stop offset="0.9979" stop-color="rgb(183,229,0)"/></linearGradient><linearGradient id="h140" gradientUnits="userSpaceOnUse" x1="8" y1="0" x2="241.5" y2="0"><stop offset="0.0000" stop-color="rgb(102,153,0)"/><stop offset="0.0343" stop-color="rgb(102,153,0)"/><stop offset="0.0685" stop-color="rgb(112,153,0)"/><stop offset="0.0942" stop-color="rgb(142,178,0)"/><stop offset="0.1585" stop-color="rgb(147,178,0)"/><stop offset="0.2141" stop-color="rgb(137,165,0)"/><stop offset="0.2398" stop-color="rgb(102,153,0)"/><stop offset="0.2741" stop-color="rgb(91,153,0)"/><stop offset="0.3084" stop-color="rgb(117,153,0)"/><stop offset="0.3340" stop-color="rgb(140,153,0)"/><stop offset="0.3469" stop-color="rgb(35,76,0)"/><stop offset="0.3640" stop-color="rgb(30,76,0)"/><stop offset="0.3769" stop-color="rgb(188,255,0)"/><stop offset="0.4154" stop-color="rgb(183,255,0)"/><stop offset="0.4540" stop-color="rgb(178,255,0)"/><stop offset="0.4711" stop-color="rgb(137,140,0)"/><stop offset="0.5225" stop-color="rgb(127,127,0)"/><stop offset="0.5739" stop-color="rgb(142,178,0)"/><stop offset="0.6081" stop-color="rgb(188,255,0)"/><stop offset="0.6724" stop-color="rgb(188,255,0)"/><stop offset="0.7281" stop-color="rgb(178,229,0)"/><stop offset="0.7794" stop-color="rgb(168,204,0)"/><stop offset="0.8137" stop-color="rgb(183,255,0)"/><stop offset="0.8651" stop-color="rgb(183,255,0)"/><stop offset="0.9079" stop-color="rgb(173,229,0)"/><stop offset="0.9293" stop-color="rgb(142,127,0)"/><stop offset="0.9465" stop-color="rgb(183,229,0)"/><stop offset="0.9979" stop-color="rgb(183,229,0)"/></linearGradient><linearGradient id="v141" x1="0" y1="0" x2="0" y2="1"><stop offset="0" stop-color="#fff" stop-opacity="0"/><stop offset="0.25236593059936907" stop-color="#fff" stop-opacity="0"/><stop offset="0.5" stop-color="#fff" stop-opacity="1"/><stop offset="0.7476340694006309" stop-color="#fff" stop-opacity="0"/><stop offset="1" stop-color="#fff" stop-opacity="0"/></linearGradient><mask id="m142" maskContentUnits="objectBoundingBox"><rect x="0" y="0" width="1" height="1" fill="url(#v141)"/></mask><linearGradient id="v143" x1="0" y1="0" x2="0" y2="1"><stop offset="0" stop-color="#fff" stop-opacity="1"/><stop offset="0.25236593059936907" stop-color="#fff" stop-opacity="1"/><stop offset="0.5" stop-color="#fff" stop-opacity="0"/><stop offset="1" stop-color="#fff" stop-opacity="0"/></linearGradient><mask id="m144" maskContentUnits="objectBoundingBox"><rect x="0" y="0" width="1" height="1" fill="url(#v143)"/></mask><filter id="f136" filterUnits="userSpaceOnUse" x="8" y="173" width="233.5" height="31.7" color-interpolation-filters="sRGB"><feGaussianBlur in="SourceGraphic" stdDeviation="0.7" result="src"/><feColorMatrix in="src" type="matrix" values="1 0 0 0 0  1 0 0 0 0  1 0 0 0 0  0 0 0 0 1" result="bias"/><feColorMatrix in="src" type="matrix" values="0 1 0 0 0  0 1 0 0 0  0 1 0 0 0  0 0 0 0 1" result="amp"/><feTurbulence type="fractalNoise" baseFrequency="0.1 0.07" numOctaves="2" seed="63"/><feColorMatrix type="matrix" values="1 0 0 0 0  1 0 0 0 0  1 0 0 0 0  0 0 0 0 1"/><feComponentTransfer result="t0"><feFuncR type="table" tableValues="0 1 0 1 0 1 0 1 0 1 0 1 0 1 0 1 0 1 0 1 0 1 0 1 0"/><feFuncG type="table" tableValues="0 1 0 1 0 1 0 1 0 1 0 1 0 1 0 1 0 1 0 1 0 1 0 1 0"/><feFuncB type="table" tableValues="0 1 0 1 0 1 0 1 0 1 0 1 0 1 0 1 0 1 0 1 0 1 0 1 0"/></feComponentTransfer><feTurbulence type="fractalNoise" baseFrequency="0.5 0.2" numOctaves="2" seed="65"/><feColorMatrix type="matrix" values="1 0 0 0 0  1 0 0 0 0  1 0 0 0 0  0 0 0 0 1" result="t1"/><feComponentTransfer in="t0" result="tx"><feFuncR type="linear" slope="0.45" intercept="0.275"/><feFuncG type="linear" slope="0.45" intercept="0.275"/><feFuncB type="linear" slope="0.45" intercept="0.275"/></feComponentTransfer><feComposite in="tx" in2="t1" operator="arithmetic" k2="1" k3="1.6" k4="-0.8" result="tx"/><feComposite in="amp" in2="tx" operator="arithmetic" k1="1" k2="-0.5" k4="0.5" result="s1"/><feComposite in="bias" in2="s1" operator="arithmetic" k2="1" k3="1" k4="-0.5" result="s2"/><feComponentTransfer in="s2"><feFuncR type="table" tableValues="0.557 0.624 0.692 0.759 0.797 0.828 0.858 0.885 0.908 0.931 0.951 0.966 0.980 0.991 0.983 0.976 0.969 0.948 0.927 0.906 0.857 0.800 0.744 0.680 0.610 0.540 0.474 0.412 0.351 0.293 0.246 0.200 0.153"/><feFuncG type="table" tableValues="0.004 0.036 0.068 0.100 0.196 0.309 0.422 0.513 0.590 0.667 0.734 0.786 0.837 0.884 0.912 0.940 0.969 0.966 0.964 0.961 0.941 0.917 0.892 0.855 0.810 0.764 0.717 0.665 0.614 0.561 0.505 0.449 0.392"/><feFuncB type="table" tableValues="0.322 0.374 0.427 0.480 0.538 0.598 0.658 0.715 0.769 0.823 0.865 0.891 0.917 0.939 0.949 0.959 0.969 0.921 0.873 0.825 0.743 0.652 0.562 0.475 0.390 0.306 0.239 0.200 0.161 0.127 0.118 0.108 0.098"/><feFuncA type="linear" slope="0" intercept="1"/></feComponentTransfer></filter><clipPath id="c137"><rect x="16" y="181" width="217.5" height="15.7"/></clipPath><linearGradient id="h147" gradientUnits="userSpaceOnUse" x1="8" y1="0" x2="241.5" y2="0"><stop offset="0.0000" stop-color="rgb(71,153,0)"/><stop offset="0.0343" stop-color="rgb(71,153,0)"/><stop offset="0.0557" stop-color="rgb(112,204,0)"/><stop offset="0.1156" stop-color="rgb(117,216,0)"/><stop offset="0.1799" stop-color="rgb(117,216,0)"/><stop offset="0.2227" stop-color="rgb(107,204,0)"/><stop offset="0.2655" stop-color="rgb(102,204,0)"/><stop offset="0.3084" stop-color="rgb(112,178,0)"/><stop offset="0.3340" stop-color="rgb(127,153,0)"/><stop offset="0.3426" stop-color="rgb(158,127,0)"/><stop offset="0.3555" stop-color="rgb(40,89,0)"/><stop offset="0.3726" stop-color="rgb(40,102,0)"/><stop offset="0.3854" stop-color="rgb(142,255,0)"/><stop offset="0.4368" stop-color="rgb(142,255,0)"/><stop offset="0.4668" stop-color="rgb(140,229,0)"/><stop offset="0.4882" stop-color="rgb(112,153,0)"/><stop offset="0.5439" stop-color="rgb(114,153,0)"/><stop offset="0.6081" stop-color="rgb(112,178,0)"/><stop offset="0.6724" stop-color="rgb(102,178,0)"/><stop offset="0.7366" stop-color="rgb(96,178,0)"/><stop offset="0.8009" stop-color="rgb(114,165,0)"/><stop offset="0.8437" stop-color="rgb(132,140,0)"/><stop offset="0.9079" stop-color="rgb(137,127,0)"/><stop offset="0.9979" stop-color="rgb(137,127,0)"/></linearGradient><linearGradient id="h148" gradientUnits="userSpaceOnUse" x1="8" y1="0" x2="241.5" y2="0"><stop offset="0.0000" stop-color="rgb(66,153,0)"/><stop offset="0.0343" stop-color="rgb(66,153,0)"/><stop offset="0.0557" stop-color="rgb(107,204,0)"/><stop offset="0.1156" stop-color="rgb(117,216,0)"/><stop offset="0.1799" stop-color="rgb(117,216,0)"/><stop offset="0.2141" stop-color="rgb(91,204,0)"/><stop offset="0.2570" stop-color="rgb(86,204,0)"/><stop offset="0.3084" stop-color="rgb(107,178,0)"/><stop offset="0.3340" stop-color="rgb(122,153,0)"/><stop offset="0.3426" stop-color="rgb(163,127,0)"/><stop offset="0.3555" stop-color="rgb(35,89,0)"/><stop offset="0.3726" stop-color="rgb(35,102,0)"/><stop offset="0.3854" stop-color="rgb(142,255,0)"/><stop offset="0.4368" stop-color="rgb(142,255,0)"/><stop offset="0.4668" stop-color="rgb(140,229,0)"/><stop offset="0.4882" stop-color="rgb(107,153,0)"/><stop offset="0.5439" stop-color="rgb(112,153,0)"/><stop offset="0.6081" stop-color="rgb(117,178,0)"/><stop offset="0.6724" stop-color="rgb(86,191,0)"/><stop offset="0.7366" stop-color="rgb(76,191,0)"/><stop offset="0.8009" stop-color="rgb(91,178,0)"/><stop offset="0.8437" stop-color="rgb(127,140,0)"/><stop offset="0.9079" stop-color="rgb(137,127,0)"/><stop offset="0.9979" stop-color="rgb(137,127,0)"/></linearGradient><linearGradient id="h149" gradientUnits="userSpaceOnUse" x1="8" y1="0" x2="241.5" y2="0"><stop offset="0.0000" stop-color="rgb(66,153,0)"/><stop offset="0.0343" stop-color="rgb(66,153,0)"/><stop offset="0.0557" stop-color="rgb(107,204,0)"/><stop offset="0.1156" stop-color="rgb(117,216,0)"/><stop offset="0.1799" stop-color="rgb(122,216,0)"/><stop offset="0.2227" stop-color="rgb(112,204,0)"/><stop offset="0.2655" stop-color="rgb(102,204,0)"/><stop offset="0.3084" stop-color="rgb(112,178,0)"/><stop offset="0.3340" stop-color="rgb(127,153,0)"/><stop offset="0.3426" stop-color="rgb(163,127,0)"/><stop offset="0.3555" stop-color="rgb(35,89,0)"/><stop offset="0.3726" stop-color="rgb(35,102,0)"/><stop offset="0.3854" stop-color="rgb(142,255,0)"/><stop offset="0.4368" stop-color="rgb(142,255,0)"/><stop offset="0.4668" stop-color="rgb(140,229,0)"/><stop offset="0.4882" stop-color="rgb(107,153,0)"/><stop offset="0.5439" stop-color="rgb(112,153,0)"/><stop offset="0.5867" stop-color="rgb(158,178,0)"/><stop offset="0.6510" stop-color="rgb(163,178,0)"/><stop offset="0.6938" stop-color="rgb(127,178,0)"/><stop offset="0.7366" stop-color="rgb(102,178,0)"/><stop offset="0.8009" stop-color="rgb(107,178,0)"/><stop offset="0.8437" stop-color="rgb(132,140,0)"/><stop offset="0.9079" stop-color="rgb(137,127,0)"/><stop offset="0.9979" stop-color="rgb(137,127,0)"/></linearGradient><linearGradient id="v150" x1="0" y1="0" x2="0" y2="1"><stop offset="0" stop-color="#fff" stop-opacity="0"/><stop offset="0.25" stop-color="#fff" stop-opacity="0"/><stop offset="0.5" stop-color="#fff" stop-opacity="1"/><stop offset="0.75" stop-color="#fff" stop-opacity="0"/><stop offset="1" stop-color="#fff" stop-opacity="0"/></linearGradient><mask id="m151" maskContentUnits="objectBoundingBox"><rect x="0" y="0" width="1" height="1" fill="url(#v150)"/></mask><linearGradient id="v152" x1="0" y1="0" x2="0" y2="1"><stop offset="0" stop-color="#fff" stop-opacity="1"/><stop offset="0.25" stop-color="#fff" stop-opacity="1"/><stop offset="0.5" stop-color="#fff" stop-opacity="0"/><stop offset="1" stop-color="#fff" stop-opacity="0"/></linearGradient><mask id="m153" maskContentUnits="objectBoundingBox"><rect x="0" y="0" width="1" height="1" fill="url(#v152)"/></mask><filter id="f145" filterUnits="userSpaceOnUse" x="8" y="198" width="233.5" height="32" color-interpolation-filters="sRGB"><feGaussianBlur in="SourceGraphic" stdDeviation="0.7" result="src"/><feColorMatrix in="src" type="matrix" values="1 0 0 0 0  1 0 0 0 0  1 0 0 0 0  0 0 0 0 1" result="bias"/><feColorMatrix in="src" type="matrix" values="0 1 0 0 0  0 1 0 0 0  0 1 0 0 0  0 0 0 0 1" result="amp"/><feTurbulence type="fractalNoise" baseFrequency="0.1 0.07" numOctaves="2" seed="73"/><feColorMatrix type="matrix" values="1 0 0 0 0  1 0 0 0 0  1 0 0 0 0  0 0 0 0 1"/><feComponentTransfer result="t0"><feFuncR type="table" tableValues="0 1 0 1 0 1 0 1 0 1 0 1 0 1 0 1 0 1 0 1 0 1 0 1 0"/><feFuncG type="table" tableValues="0 1 0 1 0 1 0 1 0 1 0 1 0 1 0 1 0 1 0 1 0 1 0 1 0"/><feFuncB type="table" tableValues="0 1 0 1 0 1 0 1 0 1 0 1 0 1 0 1 0 1 0 1 0 1 0 1 0"/></feComponentTransfer><feTurbulence type="fractalNoise" baseFrequency="0.5 0.2" numOctaves="2" seed="75"/><feColorMatrix type="matrix" values="1 0 0 0 0  1 0 0 0 0  1 0 0 0 0  0 0 0 0 1" result="t1"/><feComponentTransfer in="t0" result="tx"><feFuncR type="linear" slope="0.45" intercept="0.275"/><feFuncG type="linear" slope="0.45" intercept="0.275"/><feFuncB type="linear" slope="0.45" intercept="0.275"/></feComponentTransfer><feComposite in="tx" in2="t1" operator="arithmetic" k2="1" k3="1.6" k4="-0.8" result="tx"/><feComposite in="amp" in2="tx" operator="arithmetic" k1="1" k2="-0.5" k4="0.5" result="s1"/><feComposite in="bias" in2="s1" operator="arithmetic" k2="1" k3="1" k4="-0.5" result="s2"/><feComponentTransfer in="s2"><feFuncR type="table" tableValues="0.557 0.624 0.692 0.759 0.797 0.828 0.858 0.885 0.908 0.931 0.951 0.966 0.980 0.991 0.983 0.976 0.969 0.948 0.927 0.906 0.857 0.800 0.744 0.680 0.610 0.540 0.474 0.412 0.351 0.293 0.246 0.200 0.153"/><feFuncG type="table" tableValues="0.004 0.036 0.068 0.100 0.196 0.309 0.422 0.513 0.590 0.667 0.734 0.786 0.837 0.884 0.912 0.940 0.969 0.966 0.964 0.961 0.941 0.917 0.892 0.855 0.810 0.764 0.717 0.665 0.614 0.561 0.505 0.449 0.392"/><feFuncB type="table" tableValues="0.322 0.374 0.427 0.480 0.538 0.598 0.658 0.715 0.769 0.823 0.865 0.891 0.917 0.939 0.949 0.959 0.969 0.921 0.873 0.825 0.743 0.652 0.562 0.475 0.390 0.306 0.239 0.200 0.161 0.127 0.118 0.108 0.098"/><feFuncA type="linear" slope="0" intercept="1"/></feComponentTransfer></filter><clipPath id="c146"><rect x="16" y="206" width="217.5" height="16"/></clipPath></defs><g clip-path="url(#c2)"><g filter="url(#f1)"><rect x="8" y="89" width="235" height="33.5" fill="url(#h3)"/><rect x="8" y="89" width="235" height="33.5" fill="url(#h4)" mask="url(#m7)"/><rect x="8" y="89" width="235" height="33.5" fill="url(#h5)" mask="url(#m9)"/><ellipse cx="188.5" cy="96" rx="9" ry="6.5" fill="rgb(38,56,0)"/><ellipse cx="24" cy="108" rx="6" ry="4" fill="rgb(7,38,0)"/></g></g><g clip-path="url(#c11)"><g filter="url(#f10)"><rect x="8" y="114" width="235" height="33.5" fill="url(#h12)"/><rect x="8" y="114" width="235" height="33.5" fill="url(#h13)" mask="url(#m16)"/><rect x="8" y="114" width="235" height="33.5" fill="url(#h14)" mask="url(#m18)"/></g></g><g clip-path="url(#c20)"><g filter="url(#f19)"><rect x="276" y="0" width="245" height="37" fill="url(#h21)"/><rect x="276" y="0" width="245" height="37" fill="url(#h22)" mask="url(#m25)"/><rect x="276" y="0" width="245" height="37" fill="url(#h23)" mask="url(#m27)"/><ellipse cx="290" cy="9.5" rx="4" ry="1.5" fill="rgb(168,51,0)"/><ellipse cx="290" cy="28.5" rx="9" ry="2" fill="rgb(102,63,0)"/><ellipse cx="337" cy="18" rx="8" ry="8" fill="rgb(117,71,0)"/><ellipse cx="375" cy="19" rx="18" ry="9" fill="rgb(114,76,0)"/><ellipse cx="374" cy="9" rx="6" ry="2" fill="rgb(153,63,0)"/><ellipse cx="408" cy="27.5" rx="12" ry="2.5" fill="rgb(107,63,0)"/><ellipse cx="432" cy="18" rx="7" ry="10" fill="rgb(140,71,0)" transform="rotate(-30 432 18)"/><ellipse cx="462" cy="10.5" rx="13" ry="4" fill="rgb(96,76,0)"/><ellipse cx="506" cy="10" rx="8" ry="3" fill="rgb(153,63,0)"/><ellipse cx="500" cy="20" rx="6" ry="5" fill="rgb(117,63,0)"/></g></g><g clip-path="url(#c29)"><g filter="url(#f28)"><rect x="276" y="27" width="245" height="36.4" fill="url(#h30)"/><rect x="276" y="27" width="245" height="36.4" fill="url(#h31)" mask="url(#m34)"/><rect x="276" y="27" width="245" height="36.4" fill="url(#h32)" mask="url(#m36)"/><ellipse cx="305" cy="45" rx="22" ry="9" fill="rgb(140,66,0)"/><ellipse cx="316" cy="54.5" rx="16" ry="2.5" fill="rgb(160,63,0)"/><ellipse cx="350" cy="45" rx="16" ry="10" fill="rgb(117,71,0)"/><ellipse cx="386" cy="52" rx="6" ry="4" fill="rgb(107,71,0)"/><ellipse cx="420" cy="50" rx="20" ry="5" fill="rgb(142,71,0)"/><ellipse cx="420" cy="38" rx="10" ry="3" fill="rgb(117,63,0)"/><ellipse cx="477" cy="54.5" rx="9" ry="2" fill="rgb(158,63,0)"/><ellipse cx="509" cy="41" rx="6" ry="4" fill="rgb(147,63,0)"/></g></g><g clip-path="url(#c38)"><g filter="url(#f37)" transform="rotate(40 316.0 104.5)"><rect x="277.63554709862206" y="66.13554709862206" width="76.7289058027559" height="76.7289058027559" fill="url(#h39)"/><rect x="277.63554709862206" y="66.13554709862206" width="76.7289058027559" height="76.7289058027559" fill="url(#h40)" mask="url(#m43)"/><rect x="277.63554709862206" y="66.13554709862206" width="76.7289058027559" height="76.7289058027559" fill="url(#h41)" mask="url(#m45)"/></g></g><g clip-path="url(#c47)"><g filter="url(#f46)" transform="rotate(80 374.5 104.5)"><rect x="335.6576589734177" y="65.65765897341772" width="77.68468205316455" height="77.68468205316455" fill="url(#h48)"/><rect x="335.6576589734177" y="65.65765897341772" width="77.68468205316455" height="77.68468205316455" fill="url(#h49)" mask="url(#m52)"/><rect x="335.6576589734177" y="65.65765897341772" width="77.68468205316455" height="77.68468205316455" fill="url(#h50)" mask="url(#m54)"/></g></g><g clip-path="url(#c56)"><g filter="url(#f55)" transform="rotate(-45 429.5 104.5)"><rect x="394.4583654340201" y="69.45836543402008" width="70.08326913195984" height="70.08326913195984" fill="url(#h57)"/><rect x="394.4583654340201" y="69.45836543402008" width="70.08326913195984" height="70.08326913195984" fill="url(#h58)" mask="url(#m61)"/><rect x="394.4583654340201" y="69.45836543402008" width="70.08326913195984" height="70.08326913195984" fill="url(#h59)" mask="url(#m63)"/></g></g><g clip-path="url(#c65)"><g filter="url(#f64)" transform="rotate(35 484.0 104.5)"><rect x="445.63554709862206" y="66.13554709862206" width="76.7289058027559" height="76.7289058027559" fill="url(#h66)"/><rect x="445.63554709862206" y="66.13554709862206" width="76.7289058027559" height="76.7289058027559" fill="url(#h67)" mask="url(#m70)"/><rect x="445.63554709862206" y="66.13554709862206" width="76.7289058027559" height="76.7289058027559" fill="url(#h68)" mask="url(#m72)"/></g></g><g clip-path="url(#c74)"><g filter="url(#f73)" transform="rotate(-40 299.5 130.65)"><rect x="273.3982735629996" y="104.54827356299958" width="52.203452874000845" height="52.203452874000845" fill="url(#h75)"/><rect x="273.3982735629996" y="104.54827356299958" width="52.203452874000845" height="52.203452874000845" fill="url(#h76)" mask="url(#m79)"/><rect x="273.3982735629996" y="104.54827356299958" width="52.203452874000845" height="52.203452874000845" fill="url(#h77)" mask="url(#m81)"/></g></g><g clip-path="url(#c83)"><g filter="url(#f82)" transform="rotate(40 330.0 130.65)"><rect x="304.3245226372808" y="104.97452263728077" width="51.35095472543846" height="51.35095472543846" fill="url(#h84)"/><rect x="304.3245226372808" y="104.97452263728077" width="51.35095472543846" height="51.35095472543846" fill="url(#h85)" mask="url(#m88)"/><rect x="304.3245226372808" y="104.97452263728077" width="51.35095472543846" height="51.35095472543846" fill="url(#h86)" mask="url(#m90)"/></g></g><g clip-path="url(#c92)"><g filter="url(#f91)" transform="rotate(80 374.5 130.65)"><rect x="335.55371589350347" y="91.70371589350347" width="77.89256821299307" height="77.89256821299307" fill="url(#h93)"/><rect x="335.55371589350347" y="91.70371589350347" width="77.89256821299307" height="77.89256821299307" fill="url(#h94)" mask="url(#m97)"/><rect x="335.55371589350347" y="91.70371589350347" width="77.89256821299307" height="77.89256821299307" fill="url(#h95)" mask="url(#m99)"/></g></g><g clip-path="url(#c101)"><g filter="url(#f100)" transform="rotate(-40 432.0 130.65)"><rect x="394.4801338078913" y="93.13013380789134" width="75.03973238421733" height="75.03973238421733" fill="url(#h102)"/><rect x="394.4801338078913" y="93.13013380789134" width="75.03973238421733" height="75.03973238421733" fill="url(#h103)" mask="url(#m106)"/><rect x="394.4801338078913" y="93.13013380789134" width="75.03973238421733" height="75.03973238421733" fill="url(#h104)" mask="url(#m108)"/></g></g><g clip-path="url(#c110)"><g filter="url(#f109)" transform="rotate(40 486.5 130.65)"><rect x="450.3988879223615" y="94.54888792236152" width="72.20222415527698" height="72.20222415527698" fill="url(#h111)"/><rect x="450.3988879223615" y="94.54888792236152" width="72.20222415527698" height="72.20222415527698" fill="url(#h112)" mask="url(#m115)"/><rect x="450.3988879223615" y="94.54888792236152" width="72.20222415527698" height="72.20222415527698" fill="url(#h113)" mask="url(#m117)"/></g></g><g clip-path="url(#c119)"><g filter="url(#f118)"><rect x="278" y="172.4" width="241" height="32" fill="url(#h120)"/><rect x="278" y="172.4" width="241" height="32" fill="url(#h121)" mask="url(#m124)"/><rect x="278" y="172.4" width="241" height="32" fill="url(#h122)" mask="url(#m126)"/><ellipse cx="372" cy="189" rx="14" ry="8" fill="rgb(127,76,0)"/><ellipse cx="464" cy="193" rx="8" ry="4" fill="rgb(114,89,0)"/><ellipse cx="509" cy="188" rx="2" ry="8" fill="rgb(109,51,0)"/></g></g><g clip-path="url(#c128)"><g filter="url(#f127)"><rect x="278" y="198.4" width="241" height="32.4" fill="url(#h129)"/><rect x="278" y="198.4" width="241" height="32.4" fill="url(#h130)" mask="url(#m133)"/><rect x="278" y="198.4" width="241" height="32.4" fill="url(#h131)" mask="url(#m135)"/><ellipse cx="374" cy="216" rx="14" ry="7" fill="rgb(127,91,0)"/><ellipse cx="455" cy="220" rx="8" ry="3" fill="rgb(114,76,0)"/><ellipse cx="292" cy="212" rx="6" ry="8" fill="rgb(137,51,0)"/></g></g><g clip-path="url(#c137)"><g filter="url(#f136)"><rect x="8" y="173" width="233.5" height="31.7" fill="url(#h138)"/><rect x="8" y="173" width="233.5" height="31.7" fill="url(#h139)" mask="url(#m142)"/><rect x="8" y="173" width="233.5" height="31.7" fill="url(#h140)" mask="url(#m144)"/><ellipse cx="39" cy="195.6" rx="9" ry="1.1" fill="rgb(237,25,0)"/></g></g><g clip-path="url(#c146)"><g filter="url(#f145)"><rect x="8" y="198" width="233.5" height="32" fill="url(#h147)"/><rect x="8" y="198" width="233.5" height="32" fill="url(#h148)" mask="url(#m151)"/><rect x="8" y="198" width="233.5" height="32" fill="url(#h149)" mask="url(#m153)"/></g></g></svg>
<svg width="550" height="255" style="position:absolute;left:0;top:0"><defs></defs><clipPath id="rc1"><rect x="16" y="122" width="50" height="17.5"/></clipPath><g clip-path="url(#rc1)" fill="none" stroke="#6a34e0" stroke-width="0.7" opacity="0.35"><circle cx="40" cy="143" r="4.00"/><circle cx="40" cy="143" r="6.30"/><circle cx="40" cy="143" r="8.60"/><circle cx="40" cy="143" r="10.90"/><circle cx="40" cy="143" r="13.20"/><circle cx="40" cy="143" r="15.50"/><circle cx="40" cy="143" r="17.80"/><circle cx="40" cy="143" r="20.10"/><circle cx="40" cy="143" r="22.40"/><circle cx="40" cy="143" r="24.70"/><circle cx="40" cy="143" r="27.00"/><circle cx="40" cy="143" r="29.30"/><circle cx="40" cy="143" r="31.60"/><circle cx="40" cy="143" r="33.90"/></g><clipPath id="rc2"><rect x="16" y="122" width="38" height="17.5"/></clipPath><g clip-path="url(#rc2)" fill="none" stroke="#d04878" stroke-width="0.7" opacity="0.3"><circle cx="8" cy="150" r="14.00"/><circle cx="8" cy="150" r="16.30"/><circle cx="8" cy="150" r="18.60"/><circle cx="8" cy="150" r="20.90"/><circle cx="8" cy="150" r="23.20"/><circle cx="8" cy="150" r="25.50"/><circle cx="8" cy="150" r="27.80"/><circle cx="8" cy="150" r="30.10"/><circle cx="8" cy="150" r="32.40"/><circle cx="8" cy="150" r="34.70"/><circle cx="8" cy="150" r="37.00"/><circle cx="8" cy="150" r="39.30"/></g><clipPath id="rc3"><rect x="140" y="97" width="80" height="17.5"/></clipPath><g clip-path="url(#rc3)" fill="none" stroke="#ff8a3a" stroke-width="0.7" opacity="0.28"><circle cx="188.5" cy="94" r="7.00"/><circle cx="188.5" cy="94" r="9.20"/><circle cx="188.5" cy="94" r="11.40"/><circle cx="188.5" cy="94" r="13.60"/><circle cx="188.5" cy="94" r="15.80"/><circle cx="188.5" cy="94" r="18.00"/><circle cx="188.5" cy="94" r="20.20"/><circle cx="188.5" cy="94" r="22.40"/><circle cx="188.5" cy="94" r="24.60"/><circle cx="188.5" cy="94" r="26.80"/><circle cx="188.5" cy="94" r="29.00"/><circle cx="188.5" cy="94" r="31.20"/><circle cx="188.5" cy="94" r="33.40"/><circle cx="188.5" cy="94" r="35.60"/><circle cx="188.5" cy="94" r="37.80"/><circle cx="188.5" cy="94" r="40.00"/></g><clipPath id="rc4"><rect x="125" y="122" width="95" height="17.5"/></clipPath><g clip-path="url(#rc4)" fill="none" stroke="#7a3ad8" stroke-width="0.7" opacity="0.3"><circle cx="176" cy="150" r="6.00"/><circle cx="176" cy="150" r="8.30"/><circle cx="176" cy="150" r="10.60"/><circle cx="176" cy="150" r="12.90"/><circle cx="176" cy="150" r="15.20"/><circle cx="176" cy="150" r="17.50"/><circle cx="176" cy="150" r="19.80"/><circle cx="176" cy="150" r="22.10"/><circle cx="176" cy="150" r="24.40"/><circle cx="176" cy="150" r="26.70"/><circle cx="176" cy="150" r="29.00"/><circle cx="176" cy="150" r="31.30"/><circle cx="176" cy="150" r="33.60"/><circle cx="176" cy="150" r="35.90"/><circle cx="176" cy="150" r="38.20"/><circle cx="176" cy="150" r="40.50"/><circle cx="176" cy="150" r="42.80"/><circle cx="176" cy="150" r="45.10"/><circle cx="176" cy="150" r="47.40"/><circle cx="176" cy="150" r="49.70"/></g><clipPath id="rc5"><rect x="16" y="97" width="60" height="17.5"/></clipPath><g clip-path="url(#rc5)" fill="none" stroke="#4a2ad0" stroke-width="0.7" opacity="0.3"><circle cx="62" cy="125" r="8.00"/><circle cx="62" cy="125" r="10.10"/><circle cx="62" cy="125" r="12.20"/><circle cx="62" cy="125" r="14.30"/><circle cx="62" cy="125" r="16.40"/><circle cx="62" cy="125" r="18.50"/><circle cx="62" cy="125" r="20.60"/><circle cx="62" cy="125" r="22.70"/><circle cx="62" cy="125" r="24.80"/><circle cx="62" cy="125" r="26.90"/><circle cx="62" cy="125" r="29.00"/><circle cx="62" cy="125" r="31.10"/><circle cx="62" cy="125" r="33.20"/><circle cx="62" cy="125" r="35.30"/><circle cx="62" cy="125" r="37.40"/><circle cx="62" cy="125" r="39.50"/><circle cx="62" cy="125" r="41.60"/><circle cx="62" cy="125" r="43.70"/><circle cx="62" cy="125" r="45.80"/><circle cx="62" cy="125" r="47.90"/></g><clipPath id="rb1"><rect x="284" y="35" width="60" height="20.4"/></clipPath><g clip-path="url(#rb1)" fill="none" stroke="#ff7070" stroke-width="0.6" opacity="0.28"><circle cx="315" cy="60" r="5.00"/><circle cx="315" cy="60" r="7.00"/><circle cx="315" cy="60" r="9.00"/><circle cx="315" cy="60" r="11.00"/><circle cx="315" cy="60" r="13.00"/><circle cx="315" cy="60" r="15.00"/><circle cx="315" cy="60" r="17.00"/><circle cx="315" cy="60" r="19.00"/><circle cx="315" cy="60" r="21.00"/><circle cx="315" cy="60" r="23.00"/><circle cx="315" cy="60" r="25.00"/><circle cx="315" cy="60" r="27.00"/><circle cx="315" cy="60" r="29.00"/><circle cx="315" cy="60" r="31.00"/><circle cx="315" cy="60" r="33.00"/></g><clipPath id="rb2"><rect x="395" y="35" width="55" height="20.4"/></clipPath><g clip-path="url(#rb2)" fill="none" stroke="#ff7070" stroke-width="0.6" opacity="0.25"><circle cx="420" cy="60" r="5.00"/><circle cx="420" cy="60" r="7.00"/><circle cx="420" cy="60" r="9.00"/><circle cx="420" cy="60" r="11.00"/><circle cx="420" cy="60" r="13.00"/><circle cx="420" cy="60" r="15.00"/><circle cx="420" cy="60" r="17.00"/><circle cx="420" cy="60" r="19.00"/><circle cx="420" cy="60" r="21.00"/><circle cx="420" cy="60" r="23.00"/><circle cx="420" cy="60" r="25.00"/><circle cx="420" cy="60" r="27.00"/><circle cx="420" cy="60" r="29.00"/></g><clipPath id="rb3"><rect x="438" y="8" width="50" height="21"/></clipPath><g clip-path="url(#rb3)" fill="none" stroke="#6a6aff" stroke-width="0.6" opacity="0.25"><circle cx="462" cy="6" r="4.00"/><circle cx="462" cy="6" r="6.00"/><circle cx="462" cy="6" r="8.00"/><circle cx="462" cy="6" r="10.00"/><circle cx="462" cy="6" r="12.00"/><circle cx="462" cy="6" r="14.00"/><circle cx="462" cy="6" r="16.00"/><circle cx="462" cy="6" r="18.00"/><circle cx="462" cy="6" r="20.00"/><circle cx="462" cy="6" r="22.00"/><circle cx="462" cy="6" r="24.00"/><circle cx="462" cy="6" r="26.00"/></g><clipPath id="rd1"><rect x="445" y="95.5" width="50" height="18"/></clipPath><g clip-path="url(#rd1)" fill="none" stroke="#ff8080" stroke-width="0.6" opacity="0.2"><circle cx="468" cy="96" r="4.00"/><circle cx="468" cy="96" r="6.10"/><circle cx="468" cy="96" r="8.20"/><circle cx="468" cy="96" r="10.30"/><circle cx="468" cy="96" r="12.40"/><circle cx="468" cy="96" r="14.50"/><circle cx="468" cy="96" r="16.60"/><circle cx="468" cy="96" r="18.70"/><circle cx="468" cy="96" r="20.80"/><circle cx="468" cy="96" r="22.90"/><circle cx="468" cy="96" r="25.00"/><circle cx="468" cy="96" r="27.10"/></g></svg>
<svg width="550" height="255" style="position:absolute;left:0;top:0"><path d="M14 6.6H235.5V58.7H14" fill="none" stroke="#bdbdbd" stroke-width="1.1"/></svg>
<div class="t tc" style="left:14.0px;top:59px">0</div>
<div class="t tc" style="left:50.2px;top:59px">100</div>
<div class="t tc" style="left:86.4px;top:59px">200</div>
<div class="t tc" style="left:122.6px;top:59px">300</div>
<div class="t tc" style="left:158.8px;top:59px">400</div>
<div class="t tc" style="left:195.0px;top:59px">500</div>
<div class="t tc" style="left:231.2px;top:59px">600</div>
<div class="t" style="right:537.2px;top:4.2px">140</div>
<div class="t" style="right:537.2px;top:19.3px">100</div>
<div class="t" style="right:537.2px;top:34.6px">40</div>
<div class="t" style="right:537.2px;top:49px">20</div>
<div class="t tv" style="left:4.7px;top:32px;font-size:3.1px">across track distance (km)</div>
<div class="t" style="left:107px;top:62.5px;font-size:3.15px">along track distance (km)</div>
<div class="a" style="left:254.2px;top:6.2px;width:2.6px;height:52.7px;background:linear-gradient(to bottom,#5e4fa2,#3288bd 12%,#66c2a5 25%,#abdda4 37%,#e6f598 45%,#ffffbf 50%,#fee08b 57%,#fdae61 67%,#f46d43 78%,#d53e4f 88%,#9e0142)"></div>
<div class="t" style="left:257.8px;top:9.5px;font-size:2.65px">0.8</div>
<div class="sp" style="left:256.8px;top:11.25px;width:1px;height:0.5px;background:#666"></div>
<div class="t" style="left:257.8px;top:15.4px;font-size:2.65px">0.6</div>
<div class="sp" style="left:256.8px;top:17.15px;width:1px;height:0.5px;background:#666"></div>
<div class="t" style="left:257.8px;top:21.3px;font-size:2.65px">0.4</div>
<div class="sp" style="left:256.8px;top:23.05px;width:1px;height:0.5px;background:#666"></div>
<div class="t" style="left:257.8px;top:27.2px;font-size:2.65px">0.2</div>
<div class="sp" style="left:256.8px;top:28.95px;width:1px;height:0.5px;background:#666"></div>
<div class="t" style="left:257.8px;top:33.1px;font-size:2.65px">0.0</div>
<div class="sp" style="left:256.8px;top:34.85px;width:1px;height:0.5px;background:#666"></div>
<div class="t" style="left:257.8px;top:39.0px;font-size:2.65px">-0.2</div>
<div class="sp" style="left:256.8px;top:40.75px;width:1px;height:0.5px;background:#666"></div>
<div class="t" style="left:257.8px;top:44.9px;font-size:2.65px">-0.4</div>
<div class="sp" style="left:256.8px;top:46.65px;width:1px;height:0.5px;background:#666"></div>
<div class="t" style="left:257.8px;top:50.8px;font-size:2.65px">-0.6</div>
<div class="sp" style="left:256.8px;top:52.55px;width:1px;height:0.5px;background:#666"></div>
<div class="t" style="left:257.8px;top:56.7px;font-size:2.65px">-0.8</div>
<div class="sp" style="left:256.8px;top:58.45px;width:1px;height:0.5px;background:#666"></div>
<div class="t tv" style="left:264.6px;top:32.6px;font-size:2.65px">SSH (m)</div>
<div class="cap" style="left:120px;top:75.6px;font-size:10px;letter-spacing:0px">(<b>a</b>) SSH</div>
<svg width="550" height="255" style="position:absolute;left:0;top:0"><path d="M283.4 5.7H513.6V58.6H283.4Z" fill="none" stroke="#bdbdbd" stroke-width="1.1"/></svg>
<div class="t tc" style="left:284.5px;top:59.4px">0</div>
<div class="t tc" style="left:321.9px;top:59.4px">100</div>
<div class="t tc" style="left:359.2px;top:59.4px">200</div>
<div class="t tc" style="left:396.6px;top:59.4px">300</div>
<div class="t tc" style="left:433.9px;top:59.4px">400</div>
<div class="t tc" style="left:471.2px;top:59.4px">500</div>
<div class="t tc" style="left:508.6px;top:59.4px">600</div>
<div class="t" style="right:268px;top:3.5px">140</div>
<div class="t" style="right:268px;top:18.8px">100</div>
<div class="t" style="right:268px;top:34.1px">40</div>
<div class="t" style="right:268px;top:48.2px">20</div>
<div class="t tv" style="left:275px;top:30.8px;font-size:3.1px">across track distance (km)</div>
<div class="t" style="left:381px;top:63px;font-size:3.15px">along track distance (km)</div>
<div class="a" style="left:532.2px;top:5.1px;width:2.9px;height:53.8px;background:linear-gradient(to bottom,#ff0000,#ffffff 50%,#0000ff)"></div>
<div class="t" style="left:536.6px;top:3.4px;font-size:2.65px">3</div>
<div class="sp" style="left:535.1px;top:5.15px;width:1px;height:0.5px;background:#666"></div>
<div class="t" style="left:536.6px;top:12.3px;font-size:2.65px">2</div>
<div class="sp" style="left:535.1px;top:14.03px;width:1px;height:0.5px;background:#666"></div>
<div class="t" style="left:536.6px;top:21.2px;font-size:2.65px">1</div>
<div class="sp" style="left:535.1px;top:22.92px;width:1px;height:0.5px;background:#666"></div>
<div class="t" style="left:536.6px;top:30.1px;font-size:2.65px">0</div>
<div class="sp" style="left:535.1px;top:31.80px;width:1px;height:0.5px;background:#666"></div>
<div class="t" style="left:536.6px;top:38.9px;font-size:2.65px">-1</div>
<div class="sp" style="left:535.1px;top:40.68px;width:1px;height:0.5px;background:#666"></div>
<div class="t" style="left:536.6px;top:47.8px;font-size:2.65px">-2</div>
<div class="sp" style="left:535.1px;top:49.57px;width:1px;height:0.5px;background:#666"></div>
<div class="t" style="left:536.6px;top:56.7px;font-size:2.65px">-3</div>
<div class="sp" style="left:535.1px;top:58.45px;width:1px;height:0.5px;background:#666"></div>
<div class="t tv" style="left:542.7px;top:31.4px;font-size:2.65px">SSH error (cm)</div>
<div class="cap" style="left:372px;top:75.6px;font-size:10px;letter-spacing:0.16px">(<b>b</b>) Errors of SSH</div>
<svg width="550" height="255" style="position:absolute;left:0;top:0"><path d="M15.8 93.3H235.5V144.2H15.8Z" fill="none" stroke="#bdbdbd" stroke-width="1.1"/></svg>
<div class="t tc" style="left:16.0px;top:144.3px">0</div>
<div class="t tc" style="left:51.9px;top:144.3px">100</div>
<div class="t tc" style="left:87.8px;top:144.3px">200</div>
<div class="t tc" style="left:123.7px;top:144.3px">300</div>
<div class="t tc" style="left:159.6px;top:144.3px">400</div>
<div class="t tc" style="left:195.5px;top:144.3px">500</div>
<div class="t tc" style="left:231.4px;top:144.3px">600</div>
<div class="t" style="right:535.5px;top:91.3px">140</div>
<div class="t" style="right:535.5px;top:105.6px">100</div>
<div class="t" style="right:535.5px;top:119.9px">40</div>
<div class="t" style="right:535.5px;top:134.2px">20</div>
<div class="t tv" style="left:8.1px;top:118px;font-size:3.1px">across track distance (km)</div>
<div class="t" style="left:109.3px;top:147.8px;font-size:3.15px">along track distance (km)</div>
<div class="a" style="left:253.9px;top:93.2px;width:2.4px;height:50.1px;background:linear-gradient(to top,#000000,#262680 12%,#4d26bf 25%,#993380 37%,#ff4026 50%,#e68000 62%,#e6bf1a 75%,#e6e680 87%,#ffffff)"></div>
<div class="t" style="left:257.6px;top:95.9px;font-size:2.65px">3.0</div>
<div class="sp" style="left:256.3px;top:97.65px;width:1px;height:0.5px;background:#666"></div>
<div class="t" style="left:257.6px;top:103.6px;font-size:2.65px">2.5</div>
<div class="sp" style="left:256.3px;top:105.31px;width:1px;height:0.5px;background:#666"></div>
<div class="t" style="left:257.6px;top:111.2px;font-size:2.65px">2.0</div>
<div class="sp" style="left:256.3px;top:112.97px;width:1px;height:0.5px;background:#666"></div>
<div class="t" style="left:257.6px;top:118.9px;font-size:2.65px">1.5</div>
<div class="sp" style="left:256.3px;top:120.63px;width:1px;height:0.5px;background:#666"></div>
<div class="t" style="left:257.6px;top:126.5px;font-size:2.65px">1.0</div>
<div class="sp" style="left:256.3px;top:128.29px;width:1px;height:0.5px;background:#666"></div>
<div class="t" style="left:257.6px;top:134.2px;font-size:2.65px">0.5</div>
<div class="sp" style="left:256.3px;top:135.95px;width:1px;height:0.5px;background:#666"></div>
<div class="t tv" style="left:263.3px;top:119px;font-size:2.65px">Speed (m/s)</div>
<div class="cap" style="left:86.5px;top:158.4px;font-size:10px;letter-spacing:0.27px">(<b>c</b>) Geostrophic current</div>
<svg width="550" height="255" style="position:absolute;left:0;top:0"><path d="M283.4 91.6H513.5V144.4H283.4Z" fill="none" stroke="#bdbdbd" stroke-width="1.1"/></svg>
<div class="t tc" style="left:284.5px;top:145.1px">0</div>
<div class="t tc" style="left:321.9px;top:145.1px">100</div>
<div class="t tc" style="left:359.3px;top:145.1px">200</div>
<div class="t tc" style="left:396.7px;top:145.1px">300</div>
<div class="t tc" style="left:434.1px;top:145.1px">400</div>
<div class="t tc" style="left:471.5px;top:145.1px">500</div>
<div class="t tc" style="left:508.9px;top:145.1px">600</div>
<div class="t" style="right:268px;top:89.5px">140</div>
<div class="t" style="right:268px;top:104.8px">100</div>
<div class="t" style="right:268px;top:120.1px">40</div>
<div class="t" style="right:268px;top:134.2px">20</div>
<div class="t tv" style="left:275.8px;top:116.3px;font-size:3.1px">across track distance (km)</div>
<div class="t" style="left:381px;top:148.9px;font-size:3.15px">along track distance (km)</div>
<div class="a" style="left:532.8px;top:91.1px;width:2.9px;height:53.3px;background:linear-gradient(to bottom,#800000,#ff0000 25%,#ffffff 50%,#0000ff 75%,#00004c)"></div>
<div class="t" style="left:537.2px;top:94.6px;font-size:2.65px">2</div>
<div class="sp" style="left:535.6999999999999px;top:96.35px;width:1px;height:0.5px;background:#666"></div>
<div class="t" style="left:537.2px;top:105.3px;font-size:2.65px">1</div>
<div class="sp" style="left:535.6999999999999px;top:107.03px;width:1px;height:0.5px;background:#666"></div>
<div class="t" style="left:537.2px;top:116.0px;font-size:2.65px">0</div>
<div class="sp" style="left:535.6999999999999px;top:117.70px;width:1px;height:0.5px;background:#666"></div>
<div class="t" style="left:537.2px;top:126.6px;font-size:2.65px">-1</div>
<div class="sp" style="left:535.6999999999999px;top:128.38px;width:1px;height:0.5px;background:#666"></div>
<div class="t" style="left:537.2px;top:137.3px;font-size:2.65px">-2</div>
<div class="sp" style="left:535.6999999999999px;top:139.05px;width:1px;height:0.5px;background:#666"></div>
<div class="t tv" style="left:543.5px;top:118px;font-size:2.65px">Gradient error (m/s)</div>
<div class="cap" style="left:338px;top:158.4px;font-size:10px;letter-spacing:0.3px">(<b>d</b>) Errors of Geostrophic current</div>
<svg width="550" height="255" style="position:absolute;left:0;top:0"><path d="M15.8 176.5H233.6V226.4H15.8Z" fill="none" stroke="#bdbdbd" stroke-width="1.1"/></svg>
<div class="t tc" style="left:16.4px;top:227.2px">0</div>
<div class="t tc" style="left:51.8px;top:227.2px">100</div>
<div class="t tc" style="left:87.2px;top:227.2px">200</div>
<div class="t tc" style="left:122.6px;top:227.2px">300</div>
<div class="t tc" style="left:158.0px;top:227.2px">400</div>
<div class="t tc" style="left:193.4px;top:227.2px">500</div>
<div class="t tc" style="left:228.8px;top:227.2px">600</div>
<div class="t" style="right:535.5px;top:174.2px">140</div>
<div class="t" style="right:535.5px;top:188.8px">100</div>
<div class="t" style="right:535.5px;top:203px">40</div>
<div class="t" style="right:535.5px;top:217px">20</div>
<div class="t tv" style="left:8.2px;top:200.9px;font-size:3.1px">across track distance (km)</div>
<div class="t" style="left:108px;top:230.6px;font-size:3.15px">along track distance (km)</div>
<div class="a" style="left:251.3px;top:176.4px;width:2.3px;height:50.2px;background:linear-gradient(to bottom,#276419,#4d9221 12%,#7fbc41 25%,#b8e186 37%,#f7f7f7 50%,#f1b6da 62%,#de77ae 75%,#c51b7d 88%,#8e0152)"></div>
<div class="t" style="left:255px;top:178.7px;font-size:2.65px">5.0</div>
<div class="sp" style="left:253.60000000000002px;top:180.45px;width:1px;height:0.5px;background:#666"></div>
<div class="t" style="left:255px;top:189.4px;font-size:2.65px">2.5</div>
<div class="sp" style="left:253.60000000000002px;top:191.17px;width:1px;height:0.5px;background:#666"></div>
<div class="t" style="left:255px;top:200.1px;font-size:2.65px">0.0</div>
<div class="sp" style="left:253.60000000000002px;top:201.90px;width:1px;height:0.5px;background:#666"></div>
<div class="t" style="left:255px;top:210.9px;font-size:2.65px">-2.5</div>
<div class="sp" style="left:253.60000000000002px;top:212.62px;width:1px;height:0.5px;background:#666"></div>
<div class="t" style="left:255px;top:221.6px;font-size:2.65px">-5.0</div>
<div class="sp" style="left:253.60000000000002px;top:223.35px;width:1px;height:0.5px;background:#666"></div>
<div class="t tv" style="left:260.6px;top:201.2px;font-size:2.65px">Vorticity (1/s)</div>
<div class="cap" style="left:109.8px;top:242px;font-size:10px;letter-spacing:0.32px">(<b>e</b>) Vorticity</div>
<svg width="550" height="255" style="position:absolute;left:0;top:0"><path d="M286 175.9H511.3V227.8H286Z" fill="none" stroke="#bdbdbd" stroke-width="1.1"/></svg>
<div class="t tc" style="left:286.8px;top:228.2px">0</div>
<div class="t tc" style="left:323.4px;top:228.2px">100</div>
<div class="t tc" style="left:360.1px;top:228.2px">200</div>
<div class="t tc" style="left:396.8px;top:228.2px">300</div>
<div class="t tc" style="left:433.4px;top:228.2px">400</div>
<div class="t tc" style="left:470.1px;top:228.2px">500</div>
<div class="t tc" style="left:506.7px;top:228.2px">600</div>
<div class="t" style="right:265.5px;top:173.5px">140</div>
<div class="t" style="right:265.5px;top:188.8px">100</div>
<div class="t" style="right:265.5px;top:204.1px">40</div>
<div class="t" style="right:265.5px;top:218.2px">20</div>
<div class="t tv" style="left:277px;top:201.4px;font-size:3.1px">across track distance (km)</div>
<div class="t" style="left:381.5px;top:231.7px;font-size:3.15px">along track distance (km)</div>
<div class="a" style="left:529.7px;top:175.5px;width:2.8px;height:52.3px;background:linear-gradient(to bottom,#800000,#ff0000 25%,#ffffff 50%,#0000ff 75%,#00004c)"></div>
<div class="t" style="left:534.9px;top:176.2px;font-size:2.65px">6</div>
<div class="sp" style="left:532.5px;top:177.95px;width:1px;height:0.5px;background:#666"></div>
<div class="t" style="left:534.9px;top:183.9px;font-size:2.65px">4</div>
<div class="sp" style="left:532.5px;top:185.67px;width:1px;height:0.5px;background:#666"></div>
<div class="t" style="left:534.9px;top:191.6px;font-size:2.65px">2</div>
<div class="sp" style="left:532.5px;top:193.38px;width:1px;height:0.5px;background:#666"></div>
<div class="t" style="left:534.9px;top:199.3px;font-size:2.65px">0</div>
<div class="sp" style="left:532.5px;top:201.10px;width:1px;height:0.5px;background:#666"></div>
<div class="t" style="left:534.9px;top:207.1px;font-size:2.65px">-2</div>
<div class="sp" style="left:532.5px;top:208.82px;width:1px;height:0.5px;background:#666"></div>
<div class="t" style="left:534.9px;top:214.8px;font-size:2.65px">-4</div>
<div class="sp" style="left:532.5px;top:216.53px;width:1px;height:0.5px;background:#666"></div>
<div class="t" style="left:534.9px;top:222.5px;font-size:2.65px">-6</div>
<div class="sp" style="left:532.5px;top:224.25px;width:1px;height:0.5px;background:#666"></div>
<div class="t tv" style="left:538.4px;top:203px;font-size:2.65px">Vorticity error (1/s)</div>
<div class="cap" style="left:363.3px;top:242px;font-size:10px;letter-spacing:0.27px">(<b>f</b>) Errors of Vorticity</div>
<svg width="550" height="255" style="position:absolute;left:0;top:0"><g stroke="#555" stroke-width="0.6"><line x1="14.00" y1="58.7" x2="14.00" y2="60.300000000000004"/><line x1="50.20" y1="58.7" x2="50.20" y2="60.300000000000004"/><line x1="86.40" y1="58.7" x2="86.40" y2="60.300000000000004"/><line x1="122.60" y1="58.7" x2="122.60" y2="60.300000000000004"/><line x1="158.80" y1="58.7" x2="158.80" y2="60.300000000000004"/><line x1="195.00" y1="58.7" x2="195.00" y2="60.300000000000004"/><line x1="231.20" y1="58.7" x2="231.20" y2="60.300000000000004"/><line x1="12.4" y1="6.20" x2="14" y2="6.20"/><line x1="12.4" y1="21.30" x2="14" y2="21.30"/><line x1="12.4" y1="36.60" x2="14" y2="36.60"/><line x1="12.4" y1="51.00" x2="14" y2="51.00"/><line x1="284.50" y1="58.6" x2="284.50" y2="60.2"/><line x1="321.85" y1="58.6" x2="321.85" y2="60.2"/><line x1="359.20" y1="58.6" x2="359.20" y2="60.2"/><line x1="396.55" y1="58.6" x2="396.55" y2="60.2"/><line x1="433.90" y1="58.6" x2="433.90" y2="60.2"/><line x1="471.25" y1="58.6" x2="471.25" y2="60.2"/><line x1="508.60" y1="58.6" x2="508.60" y2="60.2"/><line x1="281.79999999999995" y1="5.50" x2="283.4" y2="5.50"/><line x1="281.79999999999995" y1="20.80" x2="283.4" y2="20.80"/><line x1="281.79999999999995" y1="36.10" x2="283.4" y2="36.10"/><line x1="281.79999999999995" y1="50.20" x2="283.4" y2="50.20"/><line x1="16.00" y1="144.2" x2="16.00" y2="145.79999999999998"/><line x1="51.90" y1="144.2" x2="51.90" y2="145.79999999999998"/><line x1="87.80" y1="144.2" x2="87.80" y2="145.79999999999998"/><line x1="123.70" y1="144.2" x2="123.70" y2="145.79999999999998"/><line x1="159.60" y1="144.2" x2="159.60" y2="145.79999999999998"/><line x1="195.50" y1="144.2" x2="195.50" y2="145.79999999999998"/><line x1="231.40" y1="144.2" x2="231.40" y2="145.79999999999998"/><line x1="14.200000000000001" y1="93.30" x2="15.8" y2="93.30"/><line x1="14.200000000000001" y1="107.60" x2="15.8" y2="107.60"/><line x1="14.200000000000001" y1="121.90" x2="15.8" y2="121.90"/><line x1="14.200000000000001" y1="136.20" x2="15.8" y2="136.20"/><line x1="284.50" y1="144.4" x2="284.50" y2="146.0"/><line x1="321.90" y1="144.4" x2="321.90" y2="146.0"/><line x1="359.30" y1="144.4" x2="359.30" y2="146.0"/><line x1="396.70" y1="144.4" x2="396.70" y2="146.0"/><line x1="434.10" y1="144.4" x2="434.10" y2="146.0"/><line x1="471.50" y1="144.4" x2="471.50" y2="146.0"/><line x1="508.90" y1="144.4" x2="508.90" y2="146.0"/><line x1="281.79999999999995" y1="91.50" x2="283.4" y2="91.50"/><line x1="281.79999999999995" y1="106.80" x2="283.4" y2="106.80"/><line x1="281.79999999999995" y1="122.10" x2="283.4" y2="122.10"/><line x1="281.79999999999995" y1="136.20" x2="283.4" y2="136.20"/><line x1="16.40" y1="226.4" x2="16.40" y2="228.0"/><line x1="51.80" y1="226.4" x2="51.80" y2="228.0"/><line x1="87.20" y1="226.4" x2="87.20" y2="228.0"/><line x1="122.60" y1="226.4" x2="122.60" y2="228.0"/><line x1="158.00" y1="226.4" x2="158.00" y2="228.0"/><line x1="193.40" y1="226.4" x2="193.40" y2="228.0"/><line x1="228.80" y1="226.4" x2="228.80" y2="228.0"/><line x1="14.200000000000001" y1="176.20" x2="15.8" y2="176.20"/><line x1="14.200000000000001" y1="190.80" x2="15.8" y2="190.80"/><line x1="14.200000000000001" y1="205.00" x2="15.8" y2="205.00"/><line x1="14.200000000000001" y1="219.00" x2="15.8" y2="219.00"/><line x1="286.80" y1="227.8" x2="286.80" y2="229.4"/><line x1="323.45" y1="227.8" x2="323.45" y2="229.4"/><line x1="360.10" y1="227.8" x2="360.10" y2="229.4"/><line x1="396.75" y1="227.8" x2="396.75" y2="229.4"/><line x1="433.40" y1="227.8" x2="433.40" y2="229.4"/><line x1="470.05" y1="227.8" x2="470.05" y2="229.4"/><line x1="506.70" y1="227.8" x2="506.70" y2="229.4"/><line x1="284.4" y1="175.50" x2="286" y2="175.50"/><line x1="284.4" y1="190.80" x2="286" y2="190.80"/><line x1="284.4" y1="206.10" x2="286" y2="206.10"/><line x1="284.4" y1="220.20" x2="286" y2="220.20"/></g></svg>
</body></html>
